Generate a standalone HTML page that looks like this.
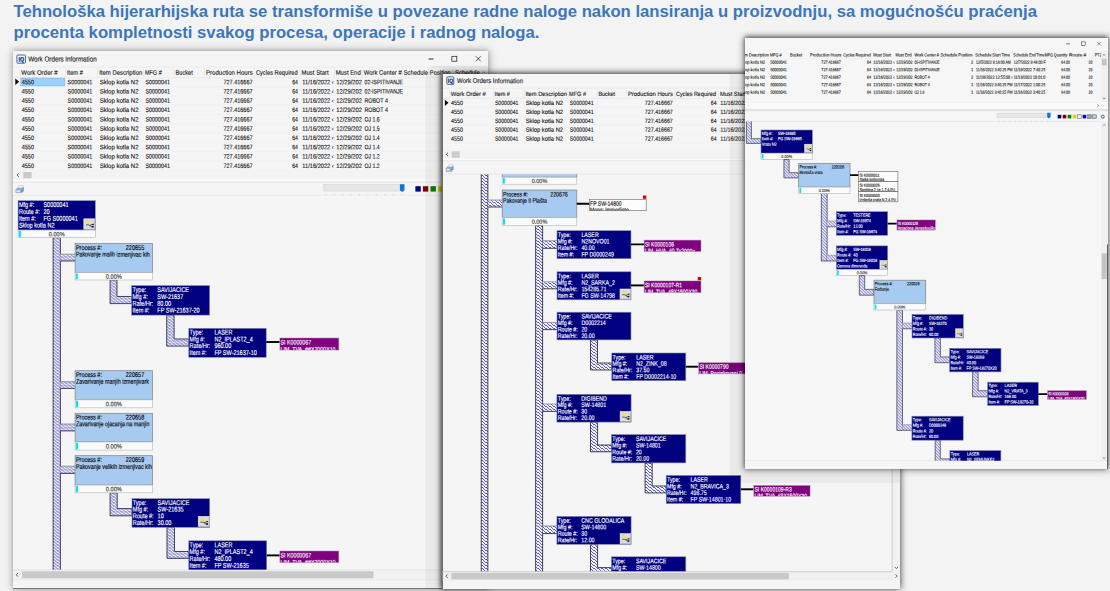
<!DOCTYPE html>
<html lang="sr"><head><meta charset="utf-8"><title>Work Orders Information</title>
<style>
html,body{margin:0;padding:0}
body{width:1110px;height:591px;overflow:hidden;position:relative;background:#f3f3f3;font-family:"Liberation Sans",sans-serif}
h1{position:absolute;left:13.5px;top:2.2px;margin:0;font:bold 16.7px/20.6px "Liberation Sans",sans-serif;color:#3d76bb;white-space:nowrap;letter-spacing:0}
.win{position:absolute;overflow:hidden;background:#f5f5f5}
.win svg{display:block;position:absolute;left:0;top:0}
svg text{font-family:"Liberation Sans",sans-serif;white-space:pre;text-rendering:geometricPrecision}
</style></head><body>
<svg width="0" height="0" style="position:absolute"><defs>
<pattern id="h" width="4" height="3" patternUnits="userSpaceOnUse" shape-rendering="crispEdges"><rect width="4" height="3" fill="#f7f7f9"/><rect x="0" y="0" width="1" height="1" fill="#5252c8"/><rect x="1" y="1" width="2" height="1" fill="#5252c8"/><rect x="3" y="2" width="1" height="1" fill="#5252c8"/></pattern>
<pattern id="h3" width="3" height="3" patternUnits="userSpaceOnUse" shape-rendering="crispEdges"><rect width="3" height="3" fill="#f6f6fa"/><rect x="0" y="0" width="1" height="1" fill="#5a5acc"/><rect x="1" y="1" width="1" height="1" fill="#5a5acc"/><rect x="2" y="2" width="1" height="1" fill="#5a5acc"/></pattern>
</defs></svg>
<h1>Tehnološka hijerarhijska ruta se transformiše u povezane radne naloge nakon lansiranja u proizvodnju, sa mogućnošću praćenja<br>procenta kompletnosti svakog procesa, operacije i radnog naloga.</h1>
<div class="win" style="left:13.3px;top:50.6px;width:474.7px;height:538.4px;box-shadow:0 0 8px 0.5px rgba(0,0,0,.36), 0 -1px 3px 0 rgba(0,0,0,.10);z-index:1"><svg width="474.7" height="538.4" viewBox="13.3 50.6 474.7 538.4"><rect x="13.3" y="50.6" width="474.7" height="538.4" fill="#f5f5f5" /><rect x="17.2" y="54.6" width="8.6" height="8.2" fill="#f4f7fb" stroke="#2c5c9c" stroke-width="0.9" rx="0.9"/><text transform="translate(21.6,61.0) scale(0.84,1) rotate(0.03)" font-size="6.395999999999997" fill="#163a78" text-anchor="middle" font-weight="bold" stroke="#163a78" stroke-width="0.3">IQ</text><text transform="translate(28.5,61.0) scale(0.859,1) rotate(0.03)" font-size="7.3" fill="#222" stroke="#222" stroke-width="0.14">Work Orders Information</text><line x1="428.9" y1="58.6" x2="433.8" y2="58.6" stroke="#000" stroke-width="0.8250000000000001"/><rect x="452.2" y="55.9" width="4.9" height="4.9" fill="none" stroke="#222" stroke-width="0.75" /><line x1="476.2" y1="55.9" x2="481.1" y2="60.9" stroke="#222" stroke-width="0.75"/><line x1="476.2" y1="60.9" x2="481.1" y2="55.9" stroke="#222" stroke-width="0.75"/><line x1="13.3" y1="66.6" x2="488.0" y2="66.6" stroke="#e6e6e6" stroke-width="0.6"/><text transform="translate(21.6,74.3) scale(0.933,1) rotate(0.03)" font-size="6.5" fill="#222" stroke="#222" stroke-width="0.14">Work Order #</text><text transform="translate(67.3,74.3) scale(0.88,1) rotate(0.03)" font-size="6.5" fill="#222" stroke="#222" stroke-width="0.14">Item #</text><text transform="translate(99.5,74.3) scale(0.918,1) rotate(0.03)" font-size="6.5" fill="#222" stroke="#222" stroke-width="0.14">Item Description</text><text transform="translate(145.2,74.3) scale(0.846,1) rotate(0.03)" font-size="6.5" fill="#222" stroke="#222" stroke-width="0.14">MFG #</text><text transform="translate(175.8,74.3) scale(0.866,1) rotate(0.03)" font-size="6.5" fill="#222" stroke="#222" stroke-width="0.14">Bucket</text><text transform="translate(206.3,74.3) scale(0.93,1) rotate(0.03)" font-size="6.5" fill="#222" stroke="#222" stroke-width="0.14">Production Hours</text><text transform="translate(256.2,74.3) scale(0.877,1) rotate(0.03)" font-size="6.5" fill="#222" stroke="#222" stroke-width="0.14">Cycles Required</text><text transform="translate(301.9,74.3) scale(0.915,1) rotate(0.03)" font-size="6.5" fill="#222" stroke="#222" stroke-width="0.14">Must Start</text><text transform="translate(336.0,74.3) scale(0.911,1) rotate(0.03)" font-size="6.5" fill="#222" stroke="#222" stroke-width="0.14">Must End</text><text transform="translate(364.0,74.3) scale(0.909,1) rotate(0.03)" font-size="6.5" fill="#222" stroke="#222" stroke-width="0.14">Work Center #</text><text transform="translate(404.0,74.3) scale(0.901,1) rotate(0.03)" font-size="6.5" fill="#222" stroke="#222" stroke-width="0.14">Schedule Position</text><text transform="translate(455.4,74.3) scale(0.908,1) rotate(0.03)" font-size="6.5" fill="#222" stroke="#222" stroke-width="0.14">Schedule</text><line x1="20.5" y1="68.0" x2="20.5" y2="77.0" stroke="#e2e2e2" stroke-width="0.6"/><line x1="65.8" y1="68.0" x2="65.8" y2="77.0" stroke="#e2e2e2" stroke-width="0.6"/><line x1="98.0" y1="68.0" x2="98.0" y2="77.0" stroke="#e2e2e2" stroke-width="0.6"/><line x1="143.8" y1="68.0" x2="143.8" y2="77.0" stroke="#e2e2e2" stroke-width="0.6"/><line x1="174.0" y1="68.0" x2="174.0" y2="77.0" stroke="#e2e2e2" stroke-width="0.6"/><line x1="204.5" y1="68.0" x2="204.5" y2="77.0" stroke="#e2e2e2" stroke-width="0.6"/><line x1="254.6" y1="68.0" x2="254.6" y2="77.0" stroke="#e2e2e2" stroke-width="0.6"/><line x1="300.3" y1="68.0" x2="300.3" y2="77.0" stroke="#e2e2e2" stroke-width="0.6"/><line x1="334.6" y1="68.0" x2="334.6" y2="77.0" stroke="#e2e2e2" stroke-width="0.6"/><line x1="362.8" y1="68.0" x2="362.8" y2="77.0" stroke="#e2e2e2" stroke-width="0.6"/><line x1="402.8" y1="68.0" x2="402.8" y2="77.0" stroke="#e2e2e2" stroke-width="0.6"/><line x1="453.6" y1="68.0" x2="453.6" y2="77.0" stroke="#e2e2e2" stroke-width="0.6"/><line x1="13.3" y1="77.3" x2="488.0" y2="77.3" stroke="#e4e4e4" stroke-width="0.6"/><path d="M482.4,73.0 L484.0,71.4 L485.6,73.0" fill="none" stroke="#555" stroke-width="0.6"/><rect x="21.0" y="77.7" width="44.2" height="8.0" fill="#99d1ff" stroke="#3a80c8" stroke-width="0.5" stroke-dasharray="0.8 0.6"/><path d="M15.6,78.1 L19.4,81.4 L15.6,84.7 Z" fill="#000"/><text transform="translate(22.0,83.8) scale(0.851,1) rotate(0.03)" font-size="6.5" fill="#1c1c1c" stroke="#1c1c1c" stroke-width="0.14">4550</text><text transform="translate(67.8,83.8) scale(0.837,1) rotate(0.03)" font-size="6.5" fill="#1c1c1c" stroke="#1c1c1c" stroke-width="0.14">S0000041</text><text transform="translate(100.0,83.8) scale(0.926,1) rotate(0.03)" font-size="6.5" fill="#1c1c1c" stroke="#1c1c1c" stroke-width="0.14">Sklop kotla N2</text><text transform="translate(145.8,83.8) scale(0.827,1) rotate(0.03)" font-size="6.5" fill="#1c1c1c" stroke="#1c1c1c" stroke-width="0.14">S0000041</text><text transform="translate(252.8,83.8) scale(0.844,1) rotate(0.03)" font-size="6.5" fill="#1c1c1c" text-anchor="end" stroke="#1c1c1c" stroke-width="0.14">727.416667</text><text transform="translate(298.3,83.8) scale(0.802,1) rotate(0.03)" font-size="6.5" fill="#1c1c1c" text-anchor="end" stroke="#1c1c1c" stroke-width="0.14">64</text><text transform="translate(302.6,83.8) scale(0.872,1) rotate(0.03)" font-size="6.5" fill="#1c1c1c" stroke="#1c1c1c" stroke-width="0.14">11/16/2022 ‹</text><text transform="translate(336.6,83.8) scale(0.889,1) rotate(0.03)" font-size="6.5" fill="#1c1c1c" stroke="#1c1c1c" stroke-width="0.14">12/29/202</text><text transform="translate(364.8,83.8) scale(0.805,1) rotate(0.03)" font-size="6.5" fill="#1c1c1c" stroke="#1c1c1c" stroke-width="0.14">02-ISPITIVANJE</text><line x1="20.5" y1="86.2" x2="488.0" y2="86.2" stroke="#efefef" stroke-width="0.5"/><text transform="translate(22.0,93.1) scale(0.851,1) rotate(0.03)" font-size="6.5" fill="#1c1c1c" stroke="#1c1c1c" stroke-width="0.14">4550</text><text transform="translate(67.8,93.1) scale(0.837,1) rotate(0.03)" font-size="6.5" fill="#1c1c1c" stroke="#1c1c1c" stroke-width="0.14">S0000041</text><text transform="translate(100.0,93.1) scale(0.926,1) rotate(0.03)" font-size="6.5" fill="#1c1c1c" stroke="#1c1c1c" stroke-width="0.14">Sklop kotla N2</text><text transform="translate(145.8,93.1) scale(0.827,1) rotate(0.03)" font-size="6.5" fill="#1c1c1c" stroke="#1c1c1c" stroke-width="0.14">S0000041</text><text transform="translate(252.8,93.1) scale(0.844,1) rotate(0.03)" font-size="6.5" fill="#1c1c1c" text-anchor="end" stroke="#1c1c1c" stroke-width="0.14">727.416667</text><text transform="translate(298.3,93.1) scale(0.802,1) rotate(0.03)" font-size="6.5" fill="#1c1c1c" text-anchor="end" stroke="#1c1c1c" stroke-width="0.14">64</text><text transform="translate(302.6,93.1) scale(0.872,1) rotate(0.03)" font-size="6.5" fill="#1c1c1c" stroke="#1c1c1c" stroke-width="0.14">11/16/2022 ‹</text><text transform="translate(336.6,93.1) scale(0.889,1) rotate(0.03)" font-size="6.5" fill="#1c1c1c" stroke="#1c1c1c" stroke-width="0.14">12/29/202</text><text transform="translate(364.8,93.1) scale(0.805,1) rotate(0.03)" font-size="6.5" fill="#1c1c1c" stroke="#1c1c1c" stroke-width="0.14">02-ISPITIVANJE</text><line x1="20.5" y1="95.5" x2="488.0" y2="95.5" stroke="#efefef" stroke-width="0.5"/><text transform="translate(22.0,102.4) scale(0.851,1) rotate(0.03)" font-size="6.5" fill="#1c1c1c" stroke="#1c1c1c" stroke-width="0.14">4550</text><text transform="translate(67.8,102.4) scale(0.837,1) rotate(0.03)" font-size="6.5" fill="#1c1c1c" stroke="#1c1c1c" stroke-width="0.14">S0000041</text><text transform="translate(100.0,102.4) scale(0.926,1) rotate(0.03)" font-size="6.5" fill="#1c1c1c" stroke="#1c1c1c" stroke-width="0.14">Sklop kotla N2</text><text transform="translate(145.8,102.4) scale(0.827,1) rotate(0.03)" font-size="6.5" fill="#1c1c1c" stroke="#1c1c1c" stroke-width="0.14">S0000041</text><text transform="translate(252.8,102.4) scale(0.844,1) rotate(0.03)" font-size="6.5" fill="#1c1c1c" text-anchor="end" stroke="#1c1c1c" stroke-width="0.14">727.416667</text><text transform="translate(298.3,102.4) scale(0.802,1) rotate(0.03)" font-size="6.5" fill="#1c1c1c" text-anchor="end" stroke="#1c1c1c" stroke-width="0.14">64</text><text transform="translate(302.6,102.4) scale(0.872,1) rotate(0.03)" font-size="6.5" fill="#1c1c1c" stroke="#1c1c1c" stroke-width="0.14">11/16/2022 ‹</text><text transform="translate(336.6,102.4) scale(0.889,1) rotate(0.03)" font-size="6.5" fill="#1c1c1c" stroke="#1c1c1c" stroke-width="0.14">12/29/202</text><text transform="translate(364.8,102.4) scale(0.823,1) rotate(0.03)" font-size="6.5" fill="#1c1c1c" stroke="#1c1c1c" stroke-width="0.14">ROBOT 4</text><line x1="20.5" y1="104.8" x2="488.0" y2="104.8" stroke="#efefef" stroke-width="0.5"/><text transform="translate(22.0,111.7) scale(0.851,1) rotate(0.03)" font-size="6.5" fill="#1c1c1c" stroke="#1c1c1c" stroke-width="0.14">4550</text><text transform="translate(67.8,111.7) scale(0.837,1) rotate(0.03)" font-size="6.5" fill="#1c1c1c" stroke="#1c1c1c" stroke-width="0.14">S0000041</text><text transform="translate(100.0,111.7) scale(0.926,1) rotate(0.03)" font-size="6.5" fill="#1c1c1c" stroke="#1c1c1c" stroke-width="0.14">Sklop kotla N2</text><text transform="translate(145.8,111.7) scale(0.827,1) rotate(0.03)" font-size="6.5" fill="#1c1c1c" stroke="#1c1c1c" stroke-width="0.14">S0000041</text><text transform="translate(252.8,111.7) scale(0.844,1) rotate(0.03)" font-size="6.5" fill="#1c1c1c" text-anchor="end" stroke="#1c1c1c" stroke-width="0.14">727.416667</text><text transform="translate(298.3,111.7) scale(0.802,1) rotate(0.03)" font-size="6.5" fill="#1c1c1c" text-anchor="end" stroke="#1c1c1c" stroke-width="0.14">64</text><text transform="translate(302.6,111.7) scale(0.872,1) rotate(0.03)" font-size="6.5" fill="#1c1c1c" stroke="#1c1c1c" stroke-width="0.14">11/16/2022 ‹</text><text transform="translate(336.6,111.7) scale(0.889,1) rotate(0.03)" font-size="6.5" fill="#1c1c1c" stroke="#1c1c1c" stroke-width="0.14">12/29/202</text><text transform="translate(364.8,111.7) scale(0.823,1) rotate(0.03)" font-size="6.5" fill="#1c1c1c" stroke="#1c1c1c" stroke-width="0.14">ROBOT 4</text><line x1="20.5" y1="114.1" x2="488.0" y2="114.1" stroke="#efefef" stroke-width="0.5"/><text transform="translate(22.0,121.0) scale(0.851,1) rotate(0.03)" font-size="6.5" fill="#1c1c1c" stroke="#1c1c1c" stroke-width="0.14">4550</text><text transform="translate(67.8,121.0) scale(0.837,1) rotate(0.03)" font-size="6.5" fill="#1c1c1c" stroke="#1c1c1c" stroke-width="0.14">S0000041</text><text transform="translate(100.0,121.0) scale(0.926,1) rotate(0.03)" font-size="6.5" fill="#1c1c1c" stroke="#1c1c1c" stroke-width="0.14">Sklop kotla N2</text><text transform="translate(145.8,121.0) scale(0.827,1) rotate(0.03)" font-size="6.5" fill="#1c1c1c" stroke="#1c1c1c" stroke-width="0.14">S0000041</text><text transform="translate(252.8,121.0) scale(0.844,1) rotate(0.03)" font-size="6.5" fill="#1c1c1c" text-anchor="end" stroke="#1c1c1c" stroke-width="0.14">727.416667</text><text transform="translate(298.3,121.0) scale(0.802,1) rotate(0.03)" font-size="6.5" fill="#1c1c1c" text-anchor="end" stroke="#1c1c1c" stroke-width="0.14">64</text><text transform="translate(302.6,121.0) scale(0.872,1) rotate(0.03)" font-size="6.5" fill="#1c1c1c" stroke="#1c1c1c" stroke-width="0.14">11/16/2022 ‹</text><text transform="translate(336.6,121.0) scale(0.889,1) rotate(0.03)" font-size="6.5" fill="#1c1c1c" stroke="#1c1c1c" stroke-width="0.14">12/29/202</text><text transform="translate(364.8,121.0) scale(0.794,1) rotate(0.03)" font-size="6.5" fill="#1c1c1c" stroke="#1c1c1c" stroke-width="0.14">OJ 1.6</text><line x1="20.5" y1="123.4" x2="488.0" y2="123.4" stroke="#efefef" stroke-width="0.5"/><text transform="translate(22.0,130.3) scale(0.851,1) rotate(0.03)" font-size="6.5" fill="#1c1c1c" stroke="#1c1c1c" stroke-width="0.14">4550</text><text transform="translate(67.8,130.3) scale(0.837,1) rotate(0.03)" font-size="6.5" fill="#1c1c1c" stroke="#1c1c1c" stroke-width="0.14">S0000041</text><text transform="translate(100.0,130.3) scale(0.926,1) rotate(0.03)" font-size="6.5" fill="#1c1c1c" stroke="#1c1c1c" stroke-width="0.14">Sklop kotla N2</text><text transform="translate(145.8,130.3) scale(0.827,1) rotate(0.03)" font-size="6.5" fill="#1c1c1c" stroke="#1c1c1c" stroke-width="0.14">S0000041</text><text transform="translate(252.8,130.3) scale(0.844,1) rotate(0.03)" font-size="6.5" fill="#1c1c1c" text-anchor="end" stroke="#1c1c1c" stroke-width="0.14">727.416667</text><text transform="translate(298.3,130.3) scale(0.802,1) rotate(0.03)" font-size="6.5" fill="#1c1c1c" text-anchor="end" stroke="#1c1c1c" stroke-width="0.14">64</text><text transform="translate(302.6,130.3) scale(0.872,1) rotate(0.03)" font-size="6.5" fill="#1c1c1c" stroke="#1c1c1c" stroke-width="0.14">11/16/2022 ‹</text><text transform="translate(336.6,130.3) scale(0.889,1) rotate(0.03)" font-size="6.5" fill="#1c1c1c" stroke="#1c1c1c" stroke-width="0.14">12/29/202</text><text transform="translate(364.8,130.3) scale(0.794,1) rotate(0.03)" font-size="6.5" fill="#1c1c1c" stroke="#1c1c1c" stroke-width="0.14">OJ 1.5</text><line x1="20.5" y1="132.7" x2="488.0" y2="132.7" stroke="#efefef" stroke-width="0.5"/><text transform="translate(22.0,139.6) scale(0.851,1) rotate(0.03)" font-size="6.5" fill="#1c1c1c" stroke="#1c1c1c" stroke-width="0.14">4550</text><text transform="translate(67.8,139.6) scale(0.837,1) rotate(0.03)" font-size="6.5" fill="#1c1c1c" stroke="#1c1c1c" stroke-width="0.14">S0000041</text><text transform="translate(100.0,139.6) scale(0.926,1) rotate(0.03)" font-size="6.5" fill="#1c1c1c" stroke="#1c1c1c" stroke-width="0.14">Sklop kotla N2</text><text transform="translate(145.8,139.6) scale(0.827,1) rotate(0.03)" font-size="6.5" fill="#1c1c1c" stroke="#1c1c1c" stroke-width="0.14">S0000041</text><text transform="translate(252.8,139.6) scale(0.844,1) rotate(0.03)" font-size="6.5" fill="#1c1c1c" text-anchor="end" stroke="#1c1c1c" stroke-width="0.14">727.416667</text><text transform="translate(298.3,139.6) scale(0.802,1) rotate(0.03)" font-size="6.5" fill="#1c1c1c" text-anchor="end" stroke="#1c1c1c" stroke-width="0.14">64</text><text transform="translate(302.6,139.6) scale(0.872,1) rotate(0.03)" font-size="6.5" fill="#1c1c1c" stroke="#1c1c1c" stroke-width="0.14">11/16/2022 ‹</text><text transform="translate(336.6,139.6) scale(0.889,1) rotate(0.03)" font-size="6.5" fill="#1c1c1c" stroke="#1c1c1c" stroke-width="0.14">12/29/202</text><text transform="translate(364.8,139.6) scale(0.794,1) rotate(0.03)" font-size="6.5" fill="#1c1c1c" stroke="#1c1c1c" stroke-width="0.14">OJ 1.4</text><line x1="20.5" y1="141.9" x2="488.0" y2="141.9" stroke="#efefef" stroke-width="0.5"/><text transform="translate(22.0,148.9) scale(0.851,1) rotate(0.03)" font-size="6.5" fill="#1c1c1c" stroke="#1c1c1c" stroke-width="0.14">4550</text><text transform="translate(67.8,148.9) scale(0.837,1) rotate(0.03)" font-size="6.5" fill="#1c1c1c" stroke="#1c1c1c" stroke-width="0.14">S0000041</text><text transform="translate(100.0,148.9) scale(0.926,1) rotate(0.03)" font-size="6.5" fill="#1c1c1c" stroke="#1c1c1c" stroke-width="0.14">Sklop kotla N2</text><text transform="translate(145.8,148.9) scale(0.827,1) rotate(0.03)" font-size="6.5" fill="#1c1c1c" stroke="#1c1c1c" stroke-width="0.14">S0000041</text><text transform="translate(252.8,148.9) scale(0.844,1) rotate(0.03)" font-size="6.5" fill="#1c1c1c" text-anchor="end" stroke="#1c1c1c" stroke-width="0.14">727.416667</text><text transform="translate(298.3,148.9) scale(0.802,1) rotate(0.03)" font-size="6.5" fill="#1c1c1c" text-anchor="end" stroke="#1c1c1c" stroke-width="0.14">64</text><text transform="translate(302.6,148.9) scale(0.872,1) rotate(0.03)" font-size="6.5" fill="#1c1c1c" stroke="#1c1c1c" stroke-width="0.14">11/16/2022 ‹</text><text transform="translate(336.6,148.9) scale(0.889,1) rotate(0.03)" font-size="6.5" fill="#1c1c1c" stroke="#1c1c1c" stroke-width="0.14">12/29/202</text><text transform="translate(364.8,148.9) scale(0.794,1) rotate(0.03)" font-size="6.5" fill="#1c1c1c" stroke="#1c1c1c" stroke-width="0.14">OJ 1.4</text><line x1="20.5" y1="151.2" x2="488.0" y2="151.2" stroke="#efefef" stroke-width="0.5"/><text transform="translate(22.0,158.2) scale(0.851,1) rotate(0.03)" font-size="6.5" fill="#1c1c1c" stroke="#1c1c1c" stroke-width="0.14">4550</text><text transform="translate(67.8,158.2) scale(0.837,1) rotate(0.03)" font-size="6.5" fill="#1c1c1c" stroke="#1c1c1c" stroke-width="0.14">S0000041</text><text transform="translate(100.0,158.2) scale(0.926,1) rotate(0.03)" font-size="6.5" fill="#1c1c1c" stroke="#1c1c1c" stroke-width="0.14">Sklop kotla N2</text><text transform="translate(145.8,158.2) scale(0.827,1) rotate(0.03)" font-size="6.5" fill="#1c1c1c" stroke="#1c1c1c" stroke-width="0.14">S0000041</text><text transform="translate(252.8,158.2) scale(0.844,1) rotate(0.03)" font-size="6.5" fill="#1c1c1c" text-anchor="end" stroke="#1c1c1c" stroke-width="0.14">727.416667</text><text transform="translate(298.3,158.2) scale(0.802,1) rotate(0.03)" font-size="6.5" fill="#1c1c1c" text-anchor="end" stroke="#1c1c1c" stroke-width="0.14">64</text><text transform="translate(302.6,158.2) scale(0.872,1) rotate(0.03)" font-size="6.5" fill="#1c1c1c" stroke="#1c1c1c" stroke-width="0.14">11/16/2022 ‹</text><text transform="translate(336.6,158.2) scale(0.889,1) rotate(0.03)" font-size="6.5" fill="#1c1c1c" stroke="#1c1c1c" stroke-width="0.14">12/29/202</text><text transform="translate(364.8,158.2) scale(0.794,1) rotate(0.03)" font-size="6.5" fill="#1c1c1c" stroke="#1c1c1c" stroke-width="0.14">OJ 1.2</text><line x1="20.5" y1="160.6" x2="488.0" y2="160.6" stroke="#efefef" stroke-width="0.5"/><text transform="translate(22.0,167.5) scale(0.851,1) rotate(0.03)" font-size="6.5" fill="#1c1c1c" stroke="#1c1c1c" stroke-width="0.14">4550</text><text transform="translate(67.8,167.5) scale(0.837,1) rotate(0.03)" font-size="6.5" fill="#1c1c1c" stroke="#1c1c1c" stroke-width="0.14">S0000041</text><text transform="translate(100.0,167.5) scale(0.926,1) rotate(0.03)" font-size="6.5" fill="#1c1c1c" stroke="#1c1c1c" stroke-width="0.14">Sklop kotla N2</text><text transform="translate(145.8,167.5) scale(0.827,1) rotate(0.03)" font-size="6.5" fill="#1c1c1c" stroke="#1c1c1c" stroke-width="0.14">S0000041</text><text transform="translate(252.8,167.5) scale(0.844,1) rotate(0.03)" font-size="6.5" fill="#1c1c1c" text-anchor="end" stroke="#1c1c1c" stroke-width="0.14">727.416667</text><text transform="translate(298.3,167.5) scale(0.802,1) rotate(0.03)" font-size="6.5" fill="#1c1c1c" text-anchor="end" stroke="#1c1c1c" stroke-width="0.14">64</text><text transform="translate(302.6,167.5) scale(0.872,1) rotate(0.03)" font-size="6.5" fill="#1c1c1c" stroke="#1c1c1c" stroke-width="0.14">11/16/2022 ‹</text><text transform="translate(336.6,167.5) scale(0.889,1) rotate(0.03)" font-size="6.5" fill="#1c1c1c" stroke="#1c1c1c" stroke-width="0.14">12/29/202</text><text transform="translate(364.8,167.5) scale(0.794,1) rotate(0.03)" font-size="6.5" fill="#1c1c1c" stroke="#1c1c1c" stroke-width="0.14">OJ 1.2</text><line x1="20.5" y1="169.8" x2="488.0" y2="169.8" stroke="#efefef" stroke-width="0.5"/><rect x="13.3" y="170.2" width="474.7" height="8.4" fill="#f3f3f3" /><path d="M19.1,172.8 L17.3,174.6 L19.1,176.4" fill="none" stroke="#444" stroke-width="0.8"/><rect x="23.6" y="171.6" width="8.4" height="6.2" fill="#c9c9c9" /><rect x="13.3" y="178.8" width="474.7" height="2.8" fill="#fbfbfb" /><line x1="13.3" y1="181.6" x2="488.0" y2="181.6" stroke="#dcdcdc" stroke-width="0.7"/><g transform="translate(15.9,185.0) scale(1.0)"><path d="M0.2,4.2 L2.6,1.6 L8.1,1.6 L8.1,5.4 L6.2,7.7 L0.2,7.7 Z" fill="#93a4d0"/><path d="M2.2,2.6 L3.6,0.2 L7.6,0.2 L6.6,2.6 Z" fill="#f4f6fc" stroke="#9aa8cc" stroke-width="0.35"/><path d="M0.2,4.2 L6.2,4.2 L8.1,1.9 L8.1,5.4 L6.2,7.7 L0.2,7.7 Z" fill="#8496c8"/><path d="M0.2,4.2 L6.2,4.2 L6.2,7.7 L0.2,7.7 Z" fill="#a9b6dc"/><rect x="1" y="5.2" width="3.8" height="1.1" fill="#fbfbff"/><rect x="5" y="5.0" width="1.6" height="1.5" fill="#18d018"/></g><rect x="324.1" y="184.2" width="79.9" height="6.4" fill="#e7e7e7" stroke="#d2d2d2" stroke-width="0.6" /><path d="M400.2,183.8 L404.8,183.8 L404.8,189.9 L402.5,191.5 L400.2,189.9 Z" fill="#0a78d8"/><line x1="326.1" y1="193.6" x2="326.1" y2="195.2" stroke="#c4c4c4" stroke-width="0.6"/><line x1="334.5" y1="193.6" x2="334.5" y2="195.2" stroke="#c4c4c4" stroke-width="0.6"/><line x1="343.0" y1="193.6" x2="343.0" y2="195.2" stroke="#c4c4c4" stroke-width="0.6"/><line x1="351.4" y1="193.6" x2="351.4" y2="195.2" stroke="#c4c4c4" stroke-width="0.6"/><line x1="359.8" y1="193.6" x2="359.8" y2="195.2" stroke="#c4c4c4" stroke-width="0.6"/><line x1="368.3" y1="193.6" x2="368.3" y2="195.2" stroke="#c4c4c4" stroke-width="0.6"/><line x1="376.7" y1="193.6" x2="376.7" y2="195.2" stroke="#c4c4c4" stroke-width="0.6"/><line x1="385.1" y1="193.6" x2="385.1" y2="195.2" stroke="#c4c4c4" stroke-width="0.6"/><line x1="393.6" y1="193.6" x2="393.6" y2="195.2" stroke="#c4c4c4" stroke-width="0.6"/><line x1="402.0" y1="193.6" x2="402.0" y2="195.2" stroke="#c4c4c4" stroke-width="0.6"/><rect x="415.7" y="185.8" width="5.4" height="5.4" fill="#000080" /><rect x="423.2" y="185.8" width="5.4" height="5.4" fill="#800000" /><rect x="430.8" y="185.8" width="5.4" height="5.4" fill="#008000" /><rect x="438.3" y="185.8" width="5.4" height="5.4" fill="#e0d000" /><rect x="445.9" y="185.8" width="5.4" height="5.4" fill="#f0f0f0" stroke="#555" stroke-width="0.5" /><rect x="453.4" y="185.8" width="5.4" height="5.4" fill="#0000e0" /><rect x="461.0" y="185.8" width="5.4" height="5.4" fill="#a0a0a0" stroke="#555" stroke-width="0.5" /><rect x="468.6" y="185.8" width="5.4" height="5.4" fill="#a6caf0" stroke="#555" stroke-width="0.5" /><line x1="13.3" y1="194.8" x2="488.0" y2="194.8" stroke="#e2e2e2" stroke-width="0.7"/><rect x="53.4" y="237.3" width="7.2" height="333.0" fill="url(#h)" stroke="#1a1a2a" stroke-width="0.8" /><rect x="60.6" y="253.8" width="14.8" height="6.8" fill="url(#h)" /><line x1="60.6" y1="253.8" x2="75.4" y2="253.8" stroke="#8a8a92" stroke-width="0.8"/><line x1="60.6" y1="260.6" x2="75.4" y2="260.6" stroke="#1a1a2a" stroke-width="0.8"/><rect x="60.6" y="381.2" width="14.8" height="6.8" fill="url(#h)" /><line x1="60.6" y1="381.2" x2="75.4" y2="381.2" stroke="#8a8a92" stroke-width="0.8"/><line x1="60.6" y1="388.0" x2="75.4" y2="388.0" stroke="#1a1a2a" stroke-width="0.8"/><rect x="60.6" y="423.6" width="14.8" height="6.9" fill="url(#h)" /><line x1="60.6" y1="423.6" x2="75.4" y2="423.6" stroke="#8a8a92" stroke-width="0.8"/><line x1="60.6" y1="430.5" x2="75.4" y2="430.5" stroke="#1a1a2a" stroke-width="0.8"/><rect x="60.6" y="465.8" width="14.8" height="7.2" fill="url(#h)" /><line x1="60.6" y1="465.8" x2="75.4" y2="465.8" stroke="#8a8a92" stroke-width="0.8"/><line x1="60.6" y1="473.0" x2="75.4" y2="473.0" stroke="#1a1a2a" stroke-width="0.8"/><rect x="18.4" y="200.3" width="77.2" height="29.4" fill="#000080" stroke="#8a8aa8" stroke-width="0.6" /><text transform="translate(19.2,206.7) scale(0.8,1) rotate(0.03)" font-size="6.9" fill="#fff" stroke="#fff" stroke-width="0.14">Mfg #:</text><text transform="translate(43.7,206.7) scale(0.8,1) rotate(0.03)" font-size="6.9" fill="#fff" stroke="#fff" stroke-width="0.14">S0000041</text><text transform="translate(19.2,213.5) scale(0.8,1) rotate(0.03)" font-size="6.9" fill="#fff" stroke="#fff" stroke-width="0.14">Route #:</text><text transform="translate(43.7,213.5) scale(0.8,1) rotate(0.03)" font-size="6.9" fill="#fff" stroke="#fff" stroke-width="0.14">20</text><text transform="translate(19.2,220.4) scale(0.8,1) rotate(0.03)" font-size="6.9" fill="#fff" stroke="#fff" stroke-width="0.14">Item #:</text><text transform="translate(43.7,220.4) scale(0.8,1) rotate(0.03)" font-size="6.9" fill="#fff" stroke="#fff" stroke-width="0.14">FG S0000041</text><text transform="translate(19.2,227.2) scale(0.8,1) rotate(0.03)" font-size="6.9" fill="#fff" stroke="#fff" stroke-width="0.14">Sklop kotla N2</text><rect x="84.1" y="218.4" width="11.1" height="10.7" fill="#dcdcdc" stroke="#f6f6f6" stroke-width="0.5" /><path d="M84.3,229.1 L95.2,229.1 L95.2,218.6" fill="none" stroke="#8c8c8c" stroke-width="0.5"/><rect x="86.8" y="219.7" width="2.0" height="1.1" fill="#e6d24a" /><rect x="86.8" y="220.5" width="3.6" height="2.8" fill="#f2e05a" /><path d="M86.36,224.43 L89.02,224.43 L91.91,226.36 M89.91,225.07 L92.36,224.00" fill="none" stroke="#111" stroke-width="0.61"/><rect x="92.4" y="223.4" width="1.7" height="1.2" fill="#111" /><rect x="91.8" y="225.5" width="2.2" height="1.6" fill="#111" /><rect x="18.4" y="229.7" width="77.2" height="7.6" fill="#fbfbfb" stroke="#b4b4b4" stroke-width="0.6" /><rect x="19.1" y="230.5" width="2.1" height="6.1" fill="#00e8f0" /><text transform="translate(57.0,235.8) scale(0.9,1) rotate(0.03)" font-size="6.2" fill="#333" text-anchor="middle" stroke="#333" stroke-width="0.14">0.00%</text><path d="M110.4,279.6 L117.3,279.6 L117.3,296.1 L132.0,296.1 L132.0,303.2 L110.4,303.2 Z" fill="url(#h)" stroke="#1a1a2a" stroke-width="0.8"/><rect x="75.4" y="243.1" width="77.4" height="29.2" fill="#a6caf0" stroke="#808080" stroke-width="0.7" /><svg x="75.4" y="243.1" width="77.0" height="29.2" viewBox="75.4 243.1 77.0 29.2"><text transform="translate(76.2,249.5) scale(0.8,1) rotate(0.03)" font-size="6.9" fill="#000" stroke="#000" stroke-width="0.14">Process #:</text><text transform="translate(126.1,249.5) scale(0.8,1) rotate(0.03)" font-size="6.9" fill="#000" stroke="#000" stroke-width="0.14">220655</text><text transform="translate(76.2,256.2) scale(0.775,1) rotate(0.03)" font-size="6.9" fill="#000" stroke="#000" stroke-width="0.14">Pakovanje malih izmenjivac kih</text></svg><rect x="75.4" y="272.3" width="77.4" height="7.3" fill="#fbfbfb" stroke="#b4b4b4" stroke-width="0.6" /><rect x="76.1" y="273.1" width="2.0" height="5.8" fill="#00e8f0" /><text transform="translate(114.1,278.3) scale(0.9,1) rotate(0.03)" font-size="6.348000000000001" fill="#333" text-anchor="middle" stroke="#333" stroke-width="0.14">0.00%</text><path d="M167.0,314.7 L174.4,314.7 L174.4,338.6 L189.1,338.6 L189.1,345.7 L167.0,345.7 Z" fill="url(#h)" stroke="#1a1a2a" stroke-width="0.8"/><rect x="132.0" y="285.2" width="77.9" height="29.5" fill="#000080" stroke="#8a8aa8" stroke-width="0.6" /><text transform="translate(132.8,291.6) scale(0.8,1) rotate(0.03)" font-size="6.9" fill="#fff" stroke="#fff" stroke-width="0.14">Type:</text><text transform="translate(157.6,291.6) scale(0.8,1) rotate(0.03)" font-size="6.9" fill="#fff" stroke="#fff" stroke-width="0.14">SAVIJACICE</text><text transform="translate(132.8,298.5) scale(0.8,1) rotate(0.03)" font-size="6.9" fill="#fff" stroke="#fff" stroke-width="0.14">Mfg #:</text><text transform="translate(157.6,298.5) scale(0.8,1) rotate(0.03)" font-size="6.9" fill="#fff" stroke="#fff" stroke-width="0.14">SW-21637</text><text transform="translate(132.8,305.3) scale(0.8,1) rotate(0.03)" font-size="6.9" fill="#fff" stroke="#fff" stroke-width="0.14">Rate/Hr:</text><text transform="translate(157.6,305.3) scale(0.8,1) rotate(0.03)" font-size="6.9" fill="#fff" stroke="#fff" stroke-width="0.14">80.00</text><text transform="translate(132.8,312.2) scale(0.8,1) rotate(0.03)" font-size="6.9" fill="#fff" stroke="#fff" stroke-width="0.14">Item #:</text><text transform="translate(157.6,312.2) scale(0.8,1) rotate(0.03)" font-size="6.9" fill="#fff" stroke="#fff" stroke-width="0.14">FP SW-21637-20</text><rect x="189.1" y="327.9" width="77.4" height="29.0" fill="#000080" stroke="#8a8aa8" stroke-width="0.6" /><text transform="translate(189.9,334.2) scale(0.8,1) rotate(0.03)" font-size="6.9" fill="#fff" stroke="#fff" stroke-width="0.14">Type:</text><text transform="translate(214.7,334.2) scale(0.8,1) rotate(0.03)" font-size="6.9" fill="#fff" stroke="#fff" stroke-width="0.14">LASER</text><text transform="translate(189.9,341.0) scale(0.8,1) rotate(0.03)" font-size="6.9" fill="#fff" stroke="#fff" stroke-width="0.14">Mfg #:</text><text transform="translate(214.7,341.0) scale(0.8,1) rotate(0.03)" font-size="6.9" fill="#fff" stroke="#fff" stroke-width="0.14">N2_IPLAST2_4</text><text transform="translate(189.9,347.7) scale(0.8,1) rotate(0.03)" font-size="6.9" fill="#fff" stroke="#fff" stroke-width="0.14">Rate/Hr:</text><text transform="translate(214.7,347.7) scale(0.8,1) rotate(0.03)" font-size="6.9" fill="#fff" stroke="#fff" stroke-width="0.14">960.00</text><text transform="translate(189.9,354.5) scale(0.8,1) rotate(0.03)" font-size="6.9" fill="#fff" stroke="#fff" stroke-width="0.14">Item #:</text><text transform="translate(214.7,354.5) scale(0.8,1) rotate(0.03)" font-size="6.9" fill="#fff" stroke="#fff" stroke-width="0.14">FP SW-21637-10</text><line x1="266.5" y1="341.6" x2="280.1" y2="341.6" stroke="#000" stroke-width="1.9"/><svg x="280.1" y="337.6" width="59.1" height="12.1" viewBox="280.1 337.6 59.1 12.1"><rect x="280.1" y="337.6" width="59.1" height="12.1" fill="#800080" /><text transform="translate(280.9,344.2) scale(0.8,1) rotate(0.03)" font-size="6.6" fill="#fff" stroke="#fff" stroke-width="0.14">SI K0000067</text><text transform="translate(280.9,351.2) scale(0.8,1) rotate(0.03)" font-size="6.6" fill="#fff" stroke="#fff" stroke-width="0.14">LIM. TVA. ##X2000X10</text></svg><rect x="280.1" y="337.6" width="59.1" height="12.1" fill="none" stroke="#b090b0" stroke-width="0.5" /><rect x="75.4" y="370.3" width="77.4" height="29.2" fill="#a6caf0" stroke="#808080" stroke-width="0.7" /><svg x="75.4" y="370.3" width="77.0" height="29.2" viewBox="75.4 370.3 77.0 29.2"><text transform="translate(76.2,376.7) scale(0.8,1) rotate(0.03)" font-size="6.9" fill="#000" stroke="#000" stroke-width="0.14">Process #:</text><text transform="translate(126.1,376.7) scale(0.8,1) rotate(0.03)" font-size="6.9" fill="#000" stroke="#000" stroke-width="0.14">220657</text><text transform="translate(76.2,383.4) scale(0.775,1) rotate(0.03)" font-size="6.9" fill="#000" stroke="#000" stroke-width="0.14">Zavarivanje manjih izmenjivark</text></svg><rect x="75.4" y="399.5" width="77.4" height="7.9" fill="#fbfbfb" stroke="#b4b4b4" stroke-width="0.6" /><rect x="76.1" y="400.3" width="2.2" height="6.4" fill="#00e8f0" /><text transform="translate(114.1,405.8) scale(0.9,1) rotate(0.03)" font-size="6.348000000000001" fill="#333" text-anchor="middle" stroke="#333" stroke-width="0.14">0.00%</text><rect x="75.4" y="412.9" width="77.4" height="28.7" fill="#a6caf0" stroke="#808080" stroke-width="0.7" /><svg x="75.4" y="412.9" width="77.0" height="28.7" viewBox="75.4 412.9 77.0 28.7"><text transform="translate(76.2,419.2) scale(0.8,1) rotate(0.03)" font-size="6.9" fill="#000" stroke="#000" stroke-width="0.14">Process #:</text><text transform="translate(126.1,419.2) scale(0.8,1) rotate(0.03)" font-size="6.9" fill="#000" stroke="#000" stroke-width="0.14">220658</text><text transform="translate(76.2,425.9) scale(0.775,1) rotate(0.03)" font-size="6.9" fill="#000" stroke="#000" stroke-width="0.14">Zavarivanje ojacanja na manjin</text></svg><rect x="75.4" y="441.6" width="77.4" height="8.1" fill="#fbfbfb" stroke="#b4b4b4" stroke-width="0.6" /><rect x="76.1" y="442.4" width="2.3" height="6.6" fill="#00e8f0" /><text transform="translate(114.1,448.0) scale(0.9,1) rotate(0.03)" font-size="6.348000000000001" fill="#333" text-anchor="middle" stroke="#333" stroke-width="0.14">0.00%</text><path d="M110.4,492.4 L117.5,492.4 L117.5,508.2 L132.3,508.2 L132.3,515.4 L110.4,515.4 Z" fill="url(#h)" stroke="#1a1a2a" stroke-width="0.8"/><rect x="75.4" y="455.3" width="77.4" height="29.4" fill="#a6caf0" stroke="#808080" stroke-width="0.7" /><svg x="75.4" y="455.3" width="77.0" height="29.4" viewBox="75.4 455.3 77.0 29.4"><text transform="translate(76.2,461.7) scale(0.8,1) rotate(0.03)" font-size="6.9" fill="#000" stroke="#000" stroke-width="0.14">Process #:</text><text transform="translate(126.1,461.7) scale(0.8,1) rotate(0.03)" font-size="6.9" fill="#000" stroke="#000" stroke-width="0.14">220659</text><text transform="translate(76.2,468.5) scale(0.775,1) rotate(0.03)" font-size="6.9" fill="#000" stroke="#000" stroke-width="0.14">Pakovanje velikih izmenjivac kih</text></svg><rect x="75.4" y="484.7" width="77.4" height="7.7" fill="#fbfbfb" stroke="#b4b4b4" stroke-width="0.6" /><rect x="76.1" y="485.5" width="2.2" height="6.2" fill="#00e8f0" /><text transform="translate(114.1,490.9) scale(0.9,1) rotate(0.03)" font-size="6.348000000000001" fill="#333" text-anchor="middle" stroke="#333" stroke-width="0.14">0.00%</text><path d="M167.3,526.9 L174.8,526.9 L174.8,551.1 L189.1,551.1 L189.1,558.0 L167.3,558.0 Z" fill="url(#h)" stroke="#1a1a2a" stroke-width="0.8"/><rect x="132.3" y="498.3" width="77.7" height="28.6" fill="#000080" stroke="#8a8aa8" stroke-width="0.6" /><text transform="translate(133.1,504.6) scale(0.8,1) rotate(0.03)" font-size="6.9" fill="#fff" stroke="#fff" stroke-width="0.14">Type:</text><text transform="translate(157.9,504.6) scale(0.8,1) rotate(0.03)" font-size="6.9" fill="#fff" stroke="#fff" stroke-width="0.14">SAVIJACICE</text><text transform="translate(133.1,511.2) scale(0.8,1) rotate(0.03)" font-size="6.9" fill="#fff" stroke="#fff" stroke-width="0.14">Mfg #:</text><text transform="translate(157.9,511.2) scale(0.8,1) rotate(0.03)" font-size="6.9" fill="#fff" stroke="#fff" stroke-width="0.14">SW-21635</text><text transform="translate(133.1,517.9) scale(0.8,1) rotate(0.03)" font-size="6.9" fill="#fff" stroke="#fff" stroke-width="0.14">Route #:</text><text transform="translate(157.9,517.9) scale(0.8,1) rotate(0.03)" font-size="6.9" fill="#fff" stroke="#fff" stroke-width="0.14">10</text><text transform="translate(133.1,524.5) scale(0.8,1) rotate(0.03)" font-size="6.9" fill="#fff" stroke="#fff" stroke-width="0.14">Rate/Hr:</text><text transform="translate(157.9,524.5) scale(0.8,1) rotate(0.03)" font-size="6.9" fill="#fff" stroke="#fff" stroke-width="0.14">30.00</text><rect x="198.5" y="515.9" width="11.2" height="10.4" fill="#dcdcdc" stroke="#f6f6f6" stroke-width="0.5" /><path d="M198.7,526.4 L209.7,526.4 L209.7,516.1" fill="none" stroke="#8c8c8c" stroke-width="0.5"/><rect x="201.1" y="517.2" width="2.0" height="1.0" fill="#e6d24a" /><rect x="201.1" y="517.9" width="3.6" height="2.7" fill="#f2e05a" /><path d="M200.70,521.76 L203.38,521.76 L206.29,523.64 M204.28,522.38 L206.74,521.34" fill="none" stroke="#111" stroke-width="0.62"/><rect x="206.7" y="520.7" width="1.7" height="1.1" fill="#111" /><rect x="206.2" y="522.8" width="2.2" height="1.6" fill="#111" /><rect x="189.1" y="540.4" width="77.9" height="29.4" fill="#000080" stroke="#8a8aa8" stroke-width="0.6" /><text transform="translate(189.9,546.8) scale(0.8,1) rotate(0.03)" font-size="6.9" fill="#fff" stroke="#fff" stroke-width="0.14">Type:</text><text transform="translate(214.7,546.8) scale(0.8,1) rotate(0.03)" font-size="6.9" fill="#fff" stroke="#fff" stroke-width="0.14">LASER</text><text transform="translate(189.9,553.6) scale(0.8,1) rotate(0.03)" font-size="6.9" fill="#fff" stroke="#fff" stroke-width="0.14">Mfg #:</text><text transform="translate(214.7,553.6) scale(0.8,1) rotate(0.03)" font-size="6.9" fill="#fff" stroke="#fff" stroke-width="0.14">N2_IPLAST2_4</text><text transform="translate(189.9,560.5) scale(0.8,1) rotate(0.03)" font-size="6.9" fill="#fff" stroke="#fff" stroke-width="0.14">Rate/Hr:</text><text transform="translate(214.7,560.5) scale(0.8,1) rotate(0.03)" font-size="6.9" fill="#fff" stroke="#fff" stroke-width="0.14">480.00</text><text transform="translate(189.9,567.3) scale(0.8,1) rotate(0.03)" font-size="6.9" fill="#fff" stroke="#fff" stroke-width="0.14">Item #:</text><text transform="translate(214.7,567.3) scale(0.8,1) rotate(0.03)" font-size="6.9" fill="#fff" stroke="#fff" stroke-width="0.14">FP SW-21635</text><line x1="267.0" y1="555.0" x2="280.1" y2="555.0" stroke="#000" stroke-width="1.9"/><svg x="280.1" y="550.6" width="59.1" height="11.8" viewBox="280.1 550.6 59.1 11.8"><rect x="280.1" y="550.6" width="59.1" height="11.8" fill="#800080" /><text transform="translate(280.9,557.1) scale(0.8,1) rotate(0.03)" font-size="6.6" fill="#fff" stroke="#fff" stroke-width="0.14">SI K0000067</text><text transform="translate(280.9,564.1) scale(0.8,1) rotate(0.03)" font-size="6.6" fill="#fff" stroke="#fff" stroke-width="0.14">LIM. TVA. ##X2000X10</text></svg><rect x="280.1" y="550.6" width="59.1" height="11.8" fill="none" stroke="#b090b0" stroke-width="0.5" /><rect x="13.3" y="569.6" width="474.7" height="9.8" fill="#f1f1f1" /><path d="M18.3,572.6 L16.5,574.4 L18.3,576.2" fill="none" stroke="#444" stroke-width="0.8"/><rect x="22.4" y="570.9" width="351.4" height="7.0" fill="#c9c9c9" /><line x1="13.3" y1="569.5" x2="488.0" y2="569.5" stroke="#dadada" stroke-width="0.6"/><line x1="13.3" y1="579.5" x2="488.0" y2="579.5" stroke="#e2e2e2" stroke-width="0.6"/><line x1="13.3" y1="588.4" x2="488.0" y2="588.4" stroke="#4a4a4a" stroke-width="1.2"/><rect x="425.7" y="65.0" width="494.3" height="555.0" fill="rgba(0,0,0,0.042)" rx="10"/></svg></div>
<div class="win" style="left:441.9px;top:74.0px;width:458.6px;height:515.0px;box-shadow:0 0 7px 1px rgba(0,0,0,.45), 0 -2.5px 5px 0 rgba(0,0,0,.35), -2px 0 3px 0 rgba(0,0,0,.25);z-index:2"><svg width="458.6" height="515.0" viewBox="441.9 74.0 458.6 515.0"><rect x="441.9" y="74.0" width="458.6" height="515.0" fill="#f5f5f5" /><rect x="446.7" y="76.8" width="7.0" height="7.6" fill="#f4f7fb" stroke="#2c5c9c" stroke-width="0.9" rx="0.9"/><text transform="translate(450.3,82.7) scale(0.84,1) rotate(0.03)" font-size="5.928000000000007" fill="#163a78" text-anchor="middle" font-weight="bold" stroke="#163a78" stroke-width="0.3">IQ</text><text transform="translate(457.0,83.1) scale(0.875,1) rotate(0.03)" font-size="6.9" fill="#222" stroke="#222" stroke-width="0.14">Work Orders Information</text><line x1="441.9" y1="88.2" x2="900.5" y2="88.2" stroke="#e6e6e6" stroke-width="0.6"/><text transform="translate(450.7,96.0) scale(0.944,1) rotate(0.03)" font-size="6.2" fill="#222" stroke="#222" stroke-width="0.14">Work Order #</text><text transform="translate(494.5,96.0) scale(0.888,1) rotate(0.03)" font-size="6.2" fill="#222" stroke="#222" stroke-width="0.14">Item #</text><text transform="translate(525.3,96.0) scale(0.931,1) rotate(0.03)" font-size="6.2" fill="#222" stroke="#222" stroke-width="0.14">Item Description</text><text transform="translate(569.0,96.0) scale(0.892,1) rotate(0.03)" font-size="6.2" fill="#222" stroke="#222" stroke-width="0.14">MFG #</text><text transform="translate(598.3,96.0) scale(0.881,1) rotate(0.03)" font-size="6.2" fill="#222" stroke="#222" stroke-width="0.14">Bucket</text><text transform="translate(627.9,96.0) scale(0.939,1) rotate(0.03)" font-size="6.2" fill="#222" stroke="#222" stroke-width="0.14">Production Hours</text><text transform="translate(676.0,96.0) scale(0.879,1) rotate(0.03)" font-size="6.2" fill="#222" stroke="#222" stroke-width="0.14">Cycles Required</text><text transform="translate(719.8,96.0) scale(0.924,1) rotate(0.03)" font-size="6.2" fill="#222" stroke="#222" stroke-width="0.14">Must Start</text><line x1="449.6" y1="89.6" x2="449.6" y2="98.2" stroke="#e2e2e2" stroke-width="0.6"/><line x1="493.2" y1="89.6" x2="493.2" y2="98.2" stroke="#e2e2e2" stroke-width="0.6"/><line x1="524.0" y1="89.6" x2="524.0" y2="98.2" stroke="#e2e2e2" stroke-width="0.6"/><line x1="567.8" y1="89.6" x2="567.8" y2="98.2" stroke="#e2e2e2" stroke-width="0.6"/><line x1="597.0" y1="89.6" x2="597.0" y2="98.2" stroke="#e2e2e2" stroke-width="0.6"/><line x1="626.4" y1="89.6" x2="626.4" y2="98.2" stroke="#e2e2e2" stroke-width="0.6"/><line x1="674.6" y1="89.6" x2="674.6" y2="98.2" stroke="#e2e2e2" stroke-width="0.6"/><line x1="718.4" y1="89.6" x2="718.4" y2="98.2" stroke="#e2e2e2" stroke-width="0.6"/><line x1="441.9" y1="98.4" x2="900.5" y2="98.4" stroke="#e4e4e4" stroke-width="0.6"/><path d="M444.8,99.7 L448.4,102.8 L444.8,105.9 Z" fill="#000"/><text transform="translate(451.0,105.1) scale(0.863,1) rotate(0.03)" font-size="6.2" fill="#1c1c1c" stroke="#1c1c1c" stroke-width="0.14">4550</text><text transform="translate(494.8,105.1) scale(0.831,1) rotate(0.03)" font-size="6.2" fill="#1c1c1c" stroke="#1c1c1c" stroke-width="0.14">S0000041</text><text transform="translate(525.6,105.1) scale(0.936,1) rotate(0.03)" font-size="6.2" fill="#1c1c1c" stroke="#1c1c1c" stroke-width="0.14">Sklop kotla N2</text><text transform="translate(569.7,105.1) scale(0.842,1) rotate(0.03)" font-size="6.2" fill="#1c1c1c" stroke="#1c1c1c" stroke-width="0.14">S0000041</text><text transform="translate(672.7,105.1) scale(0.855,1) rotate(0.03)" font-size="6.2" fill="#1c1c1c" text-anchor="end" stroke="#1c1c1c" stroke-width="0.14">727.416667</text><text transform="translate(716.4,105.1) scale(0.827,1) rotate(0.03)" font-size="6.2" fill="#1c1c1c" text-anchor="end" stroke="#1c1c1c" stroke-width="0.14">64</text><text transform="translate(720.2,105.1) scale(0.882,1) rotate(0.03)" font-size="6.2" fill="#1c1c1c" stroke="#1c1c1c" stroke-width="0.14">11/16/2022 ‹</text><line x1="449.6" y1="107.4" x2="900.5" y2="107.4" stroke="#efefef" stroke-width="0.5"/><text transform="translate(451.0,114.0) scale(0.863,1) rotate(0.03)" font-size="6.2" fill="#1c1c1c" stroke="#1c1c1c" stroke-width="0.14">4550</text><text transform="translate(494.8,114.0) scale(0.831,1) rotate(0.03)" font-size="6.2" fill="#1c1c1c" stroke="#1c1c1c" stroke-width="0.14">S0000041</text><text transform="translate(525.6,114.0) scale(0.936,1) rotate(0.03)" font-size="6.2" fill="#1c1c1c" stroke="#1c1c1c" stroke-width="0.14">Sklop kotla N2</text><text transform="translate(569.7,114.0) scale(0.842,1) rotate(0.03)" font-size="6.2" fill="#1c1c1c" stroke="#1c1c1c" stroke-width="0.14">S0000041</text><text transform="translate(672.7,114.0) scale(0.855,1) rotate(0.03)" font-size="6.2" fill="#1c1c1c" text-anchor="end" stroke="#1c1c1c" stroke-width="0.14">727.416667</text><text transform="translate(716.4,114.0) scale(0.827,1) rotate(0.03)" font-size="6.2" fill="#1c1c1c" text-anchor="end" stroke="#1c1c1c" stroke-width="0.14">64</text><text transform="translate(720.2,114.0) scale(0.882,1) rotate(0.03)" font-size="6.2" fill="#1c1c1c" stroke="#1c1c1c" stroke-width="0.14">11/16/2022 ‹</text><line x1="449.6" y1="116.3" x2="900.5" y2="116.3" stroke="#efefef" stroke-width="0.5"/><text transform="translate(451.0,122.9) scale(0.863,1) rotate(0.03)" font-size="6.2" fill="#1c1c1c" stroke="#1c1c1c" stroke-width="0.14">4550</text><text transform="translate(494.8,122.9) scale(0.831,1) rotate(0.03)" font-size="6.2" fill="#1c1c1c" stroke="#1c1c1c" stroke-width="0.14">S0000041</text><text transform="translate(525.6,122.9) scale(0.936,1) rotate(0.03)" font-size="6.2" fill="#1c1c1c" stroke="#1c1c1c" stroke-width="0.14">Sklop kotla N2</text><text transform="translate(569.7,122.9) scale(0.842,1) rotate(0.03)" font-size="6.2" fill="#1c1c1c" stroke="#1c1c1c" stroke-width="0.14">S0000041</text><text transform="translate(672.7,122.9) scale(0.855,1) rotate(0.03)" font-size="6.2" fill="#1c1c1c" text-anchor="end" stroke="#1c1c1c" stroke-width="0.14">727.416667</text><text transform="translate(716.4,122.9) scale(0.827,1) rotate(0.03)" font-size="6.2" fill="#1c1c1c" text-anchor="end" stroke="#1c1c1c" stroke-width="0.14">64</text><text transform="translate(720.2,122.9) scale(0.882,1) rotate(0.03)" font-size="6.2" fill="#1c1c1c" stroke="#1c1c1c" stroke-width="0.14">11/16/2022 ‹</text><line x1="449.6" y1="125.2" x2="900.5" y2="125.2" stroke="#efefef" stroke-width="0.5"/><text transform="translate(451.0,131.8) scale(0.863,1) rotate(0.03)" font-size="6.2" fill="#1c1c1c" stroke="#1c1c1c" stroke-width="0.14">4550</text><text transform="translate(494.8,131.8) scale(0.831,1) rotate(0.03)" font-size="6.2" fill="#1c1c1c" stroke="#1c1c1c" stroke-width="0.14">S0000041</text><text transform="translate(525.6,131.8) scale(0.936,1) rotate(0.03)" font-size="6.2" fill="#1c1c1c" stroke="#1c1c1c" stroke-width="0.14">Sklop kotla N2</text><text transform="translate(569.7,131.8) scale(0.842,1) rotate(0.03)" font-size="6.2" fill="#1c1c1c" stroke="#1c1c1c" stroke-width="0.14">S0000041</text><text transform="translate(672.7,131.8) scale(0.855,1) rotate(0.03)" font-size="6.2" fill="#1c1c1c" text-anchor="end" stroke="#1c1c1c" stroke-width="0.14">727.416667</text><text transform="translate(716.4,131.8) scale(0.827,1) rotate(0.03)" font-size="6.2" fill="#1c1c1c" text-anchor="end" stroke="#1c1c1c" stroke-width="0.14">64</text><text transform="translate(720.2,131.8) scale(0.882,1) rotate(0.03)" font-size="6.2" fill="#1c1c1c" stroke="#1c1c1c" stroke-width="0.14">11/16/2022 ‹</text><line x1="449.6" y1="134.1" x2="900.5" y2="134.1" stroke="#efefef" stroke-width="0.5"/><text transform="translate(451.0,140.7) scale(0.863,1) rotate(0.03)" font-size="6.2" fill="#1c1c1c" stroke="#1c1c1c" stroke-width="0.14">4550</text><text transform="translate(494.8,140.7) scale(0.831,1) rotate(0.03)" font-size="6.2" fill="#1c1c1c" stroke="#1c1c1c" stroke-width="0.14">S0000041</text><text transform="translate(525.6,140.7) scale(0.936,1) rotate(0.03)" font-size="6.2" fill="#1c1c1c" stroke="#1c1c1c" stroke-width="0.14">Sklop kotla N2</text><text transform="translate(569.7,140.7) scale(0.842,1) rotate(0.03)" font-size="6.2" fill="#1c1c1c" stroke="#1c1c1c" stroke-width="0.14">S0000041</text><text transform="translate(672.7,140.7) scale(0.855,1) rotate(0.03)" font-size="6.2" fill="#1c1c1c" text-anchor="end" stroke="#1c1c1c" stroke-width="0.14">727.416667</text><text transform="translate(716.4,140.7) scale(0.827,1) rotate(0.03)" font-size="6.2" fill="#1c1c1c" text-anchor="end" stroke="#1c1c1c" stroke-width="0.14">64</text><text transform="translate(720.2,140.7) scale(0.882,1) rotate(0.03)" font-size="6.2" fill="#1c1c1c" stroke="#1c1c1c" stroke-width="0.14">11/16/2022 ‹</text><line x1="449.6" y1="143.0" x2="900.5" y2="143.0" stroke="#efefef" stroke-width="0.5"/><rect x="441.9" y="150.4" width="458.6" height="8.0" fill="#f3f3f3" /><path d="M447.9,152.7 L446.1,154.4 L447.9,156.1" fill="none" stroke="#444" stroke-width="0.8"/><rect x="451.6" y="151.2" width="8.0" height="6.6" fill="#cdcdcd" /><rect x="441.9" y="158.6" width="458.6" height="2.2" fill="#fbfbfb" /><line x1="441.9" y1="160.8" x2="900.5" y2="160.8" stroke="#dcdcdc" stroke-width="0.7"/><g transform="translate(445.6,164.2) scale(0.95)"><path d="M0.2,4.2 L2.6,1.6 L8.1,1.6 L8.1,5.4 L6.2,7.7 L0.2,7.7 Z" fill="#93a4d0"/><path d="M2.2,2.6 L3.6,0.2 L7.6,0.2 L6.6,2.6 Z" fill="#f4f6fc" stroke="#9aa8cc" stroke-width="0.35"/><path d="M0.2,4.2 L6.2,4.2 L8.1,1.9 L8.1,5.4 L6.2,7.7 L0.2,7.7 Z" fill="#8496c8"/><path d="M0.2,4.2 L6.2,4.2 L6.2,7.7 L0.2,7.7 Z" fill="#a9b6dc"/><rect x="1" y="5.2" width="3.8" height="1.1" fill="#fbfbff"/><rect x="5" y="5.0" width="1.6" height="1.5" fill="#18d018"/></g><line x1="441.9" y1="174.0" x2="900.5" y2="174.0" stroke="#e2e2e2" stroke-width="0.7"/><svg x="443" y="174.2" width="449" height="397.6" viewBox="443 174.2 449 397.6"><rect x="481.1" y="170.0" width="6.7" height="405.0" fill="url(#h)" stroke="#1a1a2a" stroke-width="0.8" /><rect x="487.8" y="200.0" width="14.3" height="7.0" fill="url(#h)" /><line x1="487.8" y1="200.0" x2="502.1" y2="200.0" stroke="#8a8a92" stroke-width="0.8"/><line x1="487.8" y1="207.0" x2="502.1" y2="207.0" stroke="#1a1a2a" stroke-width="0.8"/><rect x="502.1" y="150.0" width="74.6" height="27.2" fill="#a6caf0" stroke="#808080" stroke-width="0.7" /><svg x="502.1" y="150.0" width="74.2" height="27.2" viewBox="502.1 150.0 74.2 27.2"><text transform="translate(502.9,156.3) scale(0.8,1) rotate(0.03)" font-size="6.6" fill="#000" stroke="#000" stroke-width="0.14">Process #:</text><text transform="translate(550.1,156.3) scale(0.8,1) rotate(0.03)" font-size="6.6" fill="#000" stroke="#000" stroke-width="0.14"></text><text transform="translate(502.9,162.6) scale(0.775,1) rotate(0.03)" font-size="6.6" fill="#000" stroke="#000" stroke-width="0.14"></text></svg><rect x="502.1" y="177.2" width="74.6" height="7.0" fill="#fbfbfb" stroke="#b4b4b4" stroke-width="0.6" /><rect x="502.8" y="178.0" width="2.0" height="5.5" fill="#00e8f0" /><text transform="translate(539.4,183.0) scale(0.9,1) rotate(0.03)" font-size="6.072" fill="#333" text-anchor="middle" stroke="#333" stroke-width="0.14">0.00%</text><rect x="535.6" y="225.3" width="7.0" height="349.7" fill="url(#h)" stroke="#1a1a2a" stroke-width="0.8" /><rect x="542.6" y="240.7" width="14.3" height="7.6" fill="url(#h)" /><line x1="542.6" y1="240.7" x2="556.9" y2="240.7" stroke="#8a8a92" stroke-width="0.8"/><line x1="542.6" y1="248.3" x2="556.9" y2="248.3" stroke="#1a1a2a" stroke-width="0.8"/><rect x="542.6" y="281.8" width="14.3" height="7.0" fill="url(#h)" /><line x1="542.6" y1="281.8" x2="556.9" y2="281.8" stroke="#8a8a92" stroke-width="0.8"/><line x1="542.6" y1="288.8" x2="556.9" y2="288.8" stroke="#1a1a2a" stroke-width="0.8"/><rect x="542.6" y="322.6" width="14.3" height="7.0" fill="url(#h)" /><line x1="542.6" y1="322.6" x2="556.9" y2="322.6" stroke="#8a8a92" stroke-width="0.8"/><line x1="542.6" y1="329.6" x2="556.9" y2="329.6" stroke="#1a1a2a" stroke-width="0.8"/><rect x="542.6" y="404.0" width="14.3" height="7.4" fill="url(#h)" /><line x1="542.6" y1="404.0" x2="556.9" y2="404.0" stroke="#8a8a92" stroke-width="0.8"/><line x1="542.6" y1="411.4" x2="556.9" y2="411.4" stroke="#1a1a2a" stroke-width="0.8"/><rect x="542.6" y="526.0" width="14.3" height="7.6" fill="url(#h)" /><line x1="542.6" y1="526.0" x2="556.9" y2="526.0" stroke="#8a8a92" stroke-width="0.8"/><line x1="542.6" y1="533.6" x2="556.9" y2="533.6" stroke="#1a1a2a" stroke-width="0.8"/><rect x="502.1" y="190.0" width="74.6" height="27.7" fill="#a6caf0" stroke="#808080" stroke-width="0.7" /><svg x="502.1" y="190.0" width="74.2" height="27.7" viewBox="502.1 190.0 74.2 27.7"><text transform="translate(502.9,196.4) scale(0.8,1) rotate(0.03)" font-size="6.6" fill="#000" stroke="#000" stroke-width="0.14">Process #:</text><text transform="translate(550.1,196.4) scale(0.8,1) rotate(0.03)" font-size="6.6" fill="#000" stroke="#000" stroke-width="0.14">220676</text><text transform="translate(502.9,202.8) scale(0.775,1) rotate(0.03)" font-size="6.6" fill="#000" stroke="#000" stroke-width="0.14">Pakovanje II Plašta</text></svg><rect x="502.1" y="217.7" width="74.6" height="7.6" fill="#fbfbfb" stroke="#b4b4b4" stroke-width="0.6" /><rect x="502.8" y="218.5" width="2.1" height="6.1" fill="#00e8f0" /><text transform="translate(539.4,223.8) scale(0.9,1) rotate(0.03)" font-size="6.072" fill="#333" text-anchor="middle" stroke="#333" stroke-width="0.14">0.00%</text><line x1="576.7" y1="203.7" x2="589.2" y2="203.7" stroke="#000" stroke-width="1.9"/><svg x="589.2" y="199.4" width="56.9" height="11.3" viewBox="589.2 199.4 56.9 11.3"><rect x="589.2" y="199.4" width="56.9" height="11.3" fill="#fcfcfc" /><text transform="translate(590.0,205.7) scale(0.8,1) rotate(0.03)" font-size="6.3" fill="#111" stroke="#111" stroke-width="0.14">FP SW-14800</text><text transform="translate(590.0,212.0) scale(0.8,1) rotate(0.03)" font-size="6.3" fill="#111" stroke="#111" stroke-width="0.14">Meas: Immediate</text></svg><rect x="589.2" y="199.4" width="56.9" height="11.3" fill="none" stroke="#666" stroke-width="0.6" /><rect x="642.9" y="195.5" width="3.3" height="3.3" fill="#d80000" /><rect x="556.9" y="230.7" width="74.0" height="28.0" fill="#000080" stroke="#8a8aa8" stroke-width="0.6" /><text transform="translate(557.7,237.1) scale(0.8,1) rotate(0.03)" font-size="6.6" fill="#fff" stroke="#fff" stroke-width="0.14">Type:</text><text transform="translate(581.3,237.1) scale(0.8,1) rotate(0.03)" font-size="6.6" fill="#fff" stroke="#fff" stroke-width="0.14">LASER</text><text transform="translate(557.7,243.6) scale(0.8,1) rotate(0.03)" font-size="6.6" fill="#fff" stroke="#fff" stroke-width="0.14">Mfg #:</text><text transform="translate(581.3,243.6) scale(0.8,1) rotate(0.03)" font-size="6.6" fill="#fff" stroke="#fff" stroke-width="0.14">N2NOVO01</text><text transform="translate(557.7,250.1) scale(0.8,1) rotate(0.03)" font-size="6.6" fill="#fff" stroke="#fff" stroke-width="0.14">Rate/Hr:</text><text transform="translate(581.3,250.1) scale(0.8,1) rotate(0.03)" font-size="6.6" fill="#fff" stroke="#fff" stroke-width="0.14">40.00</text><text transform="translate(557.7,256.6) scale(0.8,1) rotate(0.03)" font-size="6.6" fill="#fff" stroke="#fff" stroke-width="0.14">Item #:</text><text transform="translate(581.3,256.6) scale(0.8,1) rotate(0.03)" font-size="6.6" fill="#fff" stroke="#fff" stroke-width="0.14">FP D0000249</text><line x1="630.9" y1="244.4" x2="644.0" y2="244.4" stroke="#000" stroke-width="1.9"/><svg x="644.0" y="240.1" width="56.9" height="11.6" viewBox="644.0 240.1 56.9 11.6"><rect x="644.0" y="240.1" width="56.9" height="11.6" fill="#800080" /><text transform="translate(644.8,246.4) scale(0.8,1) rotate(0.03)" font-size="6.3" fill="#fff" stroke="#fff" stroke-width="0.14">SI K0000106</text><text transform="translate(644.8,253.1) scale(0.8,1) rotate(0.03)" font-size="6.3" fill="#fff" stroke="#fff" stroke-width="0.14">LIM. HVA. #0.7x2000x</text></svg><rect x="644.0" y="240.1" width="56.9" height="11.6" fill="none" stroke="#b090b0" stroke-width="0.5" /><rect x="556.9" y="271.8" width="74.0" height="28.0" fill="#000080" stroke="#8a8aa8" stroke-width="0.6" /><text transform="translate(557.7,278.2) scale(0.8,1) rotate(0.03)" font-size="6.6" fill="#fff" stroke="#fff" stroke-width="0.14">Type:</text><text transform="translate(581.3,278.2) scale(0.8,1) rotate(0.03)" font-size="6.6" fill="#fff" stroke="#fff" stroke-width="0.14">LASER</text><text transform="translate(557.7,284.7) scale(0.8,1) rotate(0.03)" font-size="6.6" fill="#fff" stroke="#fff" stroke-width="0.14">Mfg #:</text><text transform="translate(581.3,284.7) scale(0.8,1) rotate(0.03)" font-size="6.6" fill="#fff" stroke="#fff" stroke-width="0.14">N2_SARKA_2</text><text transform="translate(557.7,291.2) scale(0.8,1) rotate(0.03)" font-size="6.6" fill="#fff" stroke="#fff" stroke-width="0.14">Rate/Hr:</text><text transform="translate(581.3,291.2) scale(0.8,1) rotate(0.03)" font-size="6.6" fill="#fff" stroke="#fff" stroke-width="0.14">154285.71</text><text transform="translate(557.7,297.7) scale(0.8,1) rotate(0.03)" font-size="6.6" fill="#fff" stroke="#fff" stroke-width="0.14">Item #:</text><text transform="translate(581.3,297.7) scale(0.8,1) rotate(0.03)" font-size="6.6" fill="#fff" stroke="#fff" stroke-width="0.14">FG SW-14798</text><rect x="619.9" y="289.0" width="10.7" height="10.2" fill="#dcdcdc" stroke="#f6f6f6" stroke-width="0.5" /><path d="M620.1,299.2 L630.5,299.2 L630.5,289.2" fill="none" stroke="#8c8c8c" stroke-width="0.5"/><rect x="622.5" y="290.3" width="1.9" height="1.0" fill="#e6d24a" /><rect x="622.5" y="291.0" width="3.4" height="2.7" fill="#f2e05a" /><path d="M622.03,294.75 L624.58,294.75 L627.35,296.59 M625.44,295.37 L627.78,294.34" fill="none" stroke="#111" stroke-width="0.59"/><rect x="627.8" y="293.7" width="1.6" height="1.1" fill="#111" /><rect x="627.2" y="295.8" width="2.1" height="1.5" fill="#111" /><line x1="630.9" y1="285.4" x2="644.0" y2="285.4" stroke="#000" stroke-width="1.9"/><svg x="644.0" y="280.9" width="56.9" height="11.9" viewBox="644.0 280.9 56.9 11.9"><rect x="644.0" y="280.9" width="56.9" height="11.9" fill="#800080" /><text transform="translate(644.8,287.3) scale(0.8,1) rotate(0.03)" font-size="6.3" fill="#fff" stroke="#fff" stroke-width="0.14">SI K0000107-R1</text><text transform="translate(644.8,294.0) scale(0.8,1) rotate(0.03)" font-size="6.3" fill="#fff" stroke="#fff" stroke-width="0.14">LIM. TVA. #8X1500X30</text></svg><rect x="644.0" y="280.9" width="56.9" height="11.9" fill="none" stroke="#b090b0" stroke-width="0.5" /><rect x="697.7" y="277.0" width="3.3" height="3.3" fill="#d80000" /><path d="M590.4,339.9 L597.4,339.9 L597.4,363.0 L611.7,363.0 L611.7,370.0 L590.4,370.0 Z" fill="url(#h)" stroke="#1a1a2a" stroke-width="0.8"/><rect x="556.9" y="312.2" width="74.0" height="27.7" fill="#000080" stroke="#8a8aa8" stroke-width="0.6" /><text transform="translate(557.7,318.6) scale(0.8,1) rotate(0.03)" font-size="6.6" fill="#fff" stroke="#fff" stroke-width="0.14">Type:</text><text transform="translate(581.3,318.6) scale(0.8,1) rotate(0.03)" font-size="6.6" fill="#fff" stroke="#fff" stroke-width="0.14">SAVIJACICE</text><text transform="translate(557.7,325.0) scale(0.8,1) rotate(0.03)" font-size="6.6" fill="#fff" stroke="#fff" stroke-width="0.14">Mfg #:</text><text transform="translate(581.3,325.0) scale(0.8,1) rotate(0.03)" font-size="6.6" fill="#fff" stroke="#fff" stroke-width="0.14">D0002214</text><text transform="translate(557.7,331.5) scale(0.8,1) rotate(0.03)" font-size="6.6" fill="#fff" stroke="#fff" stroke-width="0.14">Route #:</text><text transform="translate(581.3,331.5) scale(0.8,1) rotate(0.03)" font-size="6.6" fill="#fff" stroke="#fff" stroke-width="0.14">20</text><text transform="translate(557.7,337.9) scale(0.8,1) rotate(0.03)" font-size="6.6" fill="#fff" stroke="#fff" stroke-width="0.14">Rate/Hr:</text><text transform="translate(581.3,337.9) scale(0.8,1) rotate(0.03)" font-size="6.6" fill="#fff" stroke="#fff" stroke-width="0.14">20.00</text><rect x="611.7" y="353.0" width="74.0" height="27.7" fill="#000080" stroke="#8a8aa8" stroke-width="0.6" /><text transform="translate(612.5,359.4) scale(0.8,1) rotate(0.03)" font-size="6.6" fill="#fff" stroke="#fff" stroke-width="0.14">Type:</text><text transform="translate(636.1,359.4) scale(0.8,1) rotate(0.03)" font-size="6.6" fill="#fff" stroke="#fff" stroke-width="0.14">LASER</text><text transform="translate(612.5,365.8) scale(0.8,1) rotate(0.03)" font-size="6.6" fill="#fff" stroke="#fff" stroke-width="0.14">Mfg #:</text><text transform="translate(636.1,365.8) scale(0.8,1) rotate(0.03)" font-size="6.6" fill="#fff" stroke="#fff" stroke-width="0.14">N2_ZINK_08</text><text transform="translate(612.5,372.3) scale(0.8,1) rotate(0.03)" font-size="6.6" fill="#fff" stroke="#fff" stroke-width="0.14">Rate/Hr:</text><text transform="translate(636.1,372.3) scale(0.8,1) rotate(0.03)" font-size="6.6" fill="#fff" stroke="#fff" stroke-width="0.14">37.50</text><text transform="translate(612.5,378.7) scale(0.8,1) rotate(0.03)" font-size="6.6" fill="#fff" stroke="#fff" stroke-width="0.14">Item #:</text><text transform="translate(636.1,378.7) scale(0.8,1) rotate(0.03)" font-size="6.6" fill="#fff" stroke="#fff" stroke-width="0.14">FP D0002214-10</text><line x1="685.7" y1="366.7" x2="698.5" y2="366.7" stroke="#000" stroke-width="1.9"/><svg x="698.5" y="362.5" width="56.9" height="11.4" viewBox="698.5 362.5 56.9 11.4"><rect x="698.5" y="362.5" width="56.9" height="11.4" fill="#800080" /><text transform="translate(699.3,368.8) scale(0.8,1) rotate(0.03)" font-size="6.3" fill="#fff" stroke="#fff" stroke-width="0.14">SI K0000790</text><text transform="translate(699.3,375.4) scale(0.8,1) rotate(0.03)" font-size="6.3" fill="#fff" stroke="#fff" stroke-width="0.14">LIM. Pocinkovani 0.</text></svg><rect x="698.5" y="362.5" width="56.9" height="11.4" fill="none" stroke="#b090b0" stroke-width="0.5" /><path d="M590.4,422.1 L597.5,422.1 L597.5,445.0 L611.4,445.0 L611.4,451.8 L590.4,451.8 Z" fill="url(#h)" stroke="#1a1a2a" stroke-width="0.8"/><rect x="556.8" y="394.3" width="74.2" height="27.8" fill="#000080" stroke="#8a8aa8" stroke-width="0.6" /><text transform="translate(557.6,400.7) scale(0.8,1) rotate(0.03)" font-size="6.6" fill="#fff" stroke="#fff" stroke-width="0.14">Type:</text><text transform="translate(581.2,400.7) scale(0.8,1) rotate(0.03)" font-size="6.6" fill="#fff" stroke="#fff" stroke-width="0.14">DIGIBEND</text><text transform="translate(557.6,407.1) scale(0.8,1) rotate(0.03)" font-size="6.6" fill="#fff" stroke="#fff" stroke-width="0.14">Mfg #:</text><text transform="translate(581.2,407.1) scale(0.8,1) rotate(0.03)" font-size="6.6" fill="#fff" stroke="#fff" stroke-width="0.14">SW-14801</text><text transform="translate(557.6,413.6) scale(0.8,1) rotate(0.03)" font-size="6.6" fill="#fff" stroke="#fff" stroke-width="0.14">Route #:</text><text transform="translate(581.2,413.6) scale(0.8,1) rotate(0.03)" font-size="6.6" fill="#fff" stroke="#fff" stroke-width="0.14">30</text><text transform="translate(557.6,420.1) scale(0.8,1) rotate(0.03)" font-size="6.6" fill="#fff" stroke="#fff" stroke-width="0.14">Rate/Hr:</text><text transform="translate(581.2,420.1) scale(0.8,1) rotate(0.03)" font-size="6.6" fill="#fff" stroke="#fff" stroke-width="0.14">20.00</text><rect x="620.0" y="411.4" width="10.7" height="10.1" fill="#dcdcdc" stroke="#f6f6f6" stroke-width="0.5" /><path d="M620.2,421.6 L630.6,421.6 L630.6,411.6" fill="none" stroke="#8c8c8c" stroke-width="0.5"/><rect x="622.5" y="412.6" width="1.9" height="1.0" fill="#e6d24a" /><rect x="622.5" y="413.3" width="3.4" height="2.6" fill="#f2e05a" /><path d="M622.10,417.09 L624.67,417.09 L627.44,418.91 M625.52,417.69 L627.87,416.68" fill="none" stroke="#111" stroke-width="0.59"/><rect x="627.9" y="416.1" width="1.6" height="1.1" fill="#111" /><rect x="627.3" y="418.1" width="2.1" height="1.5" fill="#111" /><path d="M645.0,462.9 L652.1,462.9 L652.1,486.0 L666.1,486.0 L666.1,492.9 L645.0,492.9 Z" fill="url(#h)" stroke="#1a1a2a" stroke-width="0.8"/><rect x="611.4" y="434.6" width="74.3" height="28.3" fill="#000080" stroke="#8a8aa8" stroke-width="0.6" /><text transform="translate(612.2,441.1) scale(0.8,1) rotate(0.03)" font-size="6.6" fill="#fff" stroke="#fff" stroke-width="0.14">Type:</text><text transform="translate(635.8,441.1) scale(0.8,1) rotate(0.03)" font-size="6.6" fill="#fff" stroke="#fff" stroke-width="0.14">SAVIJACICE</text><text transform="translate(612.2,447.6) scale(0.8,1) rotate(0.03)" font-size="6.6" fill="#fff" stroke="#fff" stroke-width="0.14">Mfg #:</text><text transform="translate(635.8,447.6) scale(0.8,1) rotate(0.03)" font-size="6.6" fill="#fff" stroke="#fff" stroke-width="0.14">SW-14801</text><text transform="translate(612.2,454.2) scale(0.8,1) rotate(0.03)" font-size="6.6" fill="#fff" stroke="#fff" stroke-width="0.14">Route #:</text><text transform="translate(635.8,454.2) scale(0.8,1) rotate(0.03)" font-size="6.6" fill="#fff" stroke="#fff" stroke-width="0.14">20</text><text transform="translate(612.2,460.8) scale(0.8,1) rotate(0.03)" font-size="6.6" fill="#fff" stroke="#fff" stroke-width="0.14">Rate/Hr:</text><text transform="translate(635.8,460.8) scale(0.8,1) rotate(0.03)" font-size="6.6" fill="#fff" stroke="#fff" stroke-width="0.14">20.00</text><rect x="666.1" y="475.4" width="74.6" height="28.2" fill="#000080" stroke="#8a8aa8" stroke-width="0.6" /><text transform="translate(666.9,481.8) scale(0.8,1) rotate(0.03)" font-size="6.6" fill="#fff" stroke="#fff" stroke-width="0.14">Type:</text><text transform="translate(690.5,481.8) scale(0.8,1) rotate(0.03)" font-size="6.6" fill="#fff" stroke="#fff" stroke-width="0.14">LASER</text><text transform="translate(666.9,488.4) scale(0.8,1) rotate(0.03)" font-size="6.6" fill="#fff" stroke="#fff" stroke-width="0.14">Mfg #:</text><text transform="translate(690.5,488.4) scale(0.8,1) rotate(0.03)" font-size="6.6" fill="#fff" stroke="#fff" stroke-width="0.14">N2_BRAVICA_3</text><text transform="translate(666.9,495.0) scale(0.8,1) rotate(0.03)" font-size="6.6" fill="#fff" stroke="#fff" stroke-width="0.14">Rate/Hr:</text><text transform="translate(690.5,495.0) scale(0.8,1) rotate(0.03)" font-size="6.6" fill="#fff" stroke="#fff" stroke-width="0.14">498.75</text><text transform="translate(666.9,501.5) scale(0.8,1) rotate(0.03)" font-size="6.6" fill="#fff" stroke="#fff" stroke-width="0.14">Item #:</text><text transform="translate(690.5,501.5) scale(0.8,1) rotate(0.03)" font-size="6.6" fill="#fff" stroke="#fff" stroke-width="0.14">FP SW-14801-10</text><line x1="740.7" y1="489.3" x2="753.6" y2="489.3" stroke="#000" stroke-width="1.9"/><svg x="753.6" y="485.3" width="56.4" height="11.1" viewBox="753.6 485.3 56.4 11.1"><rect x="753.6" y="485.3" width="56.4" height="11.1" fill="#800080" /><text transform="translate(754.4,491.5) scale(0.8,1) rotate(0.03)" font-size="6.3" fill="#fff" stroke="#fff" stroke-width="0.14">SI K0000109-R3</text><text transform="translate(754.4,498.1) scale(0.8,1) rotate(0.03)" font-size="6.3" fill="#fff" stroke="#fff" stroke-width="0.14">LIM. TVA. #3X1500X30</text></svg><rect x="753.6" y="485.3" width="56.4" height="11.1" fill="none" stroke="#b090b0" stroke-width="0.5" /><path d="M590.4,544.3 L597.5,544.3 L597.5,567.6 L611.4,567.6 L611.4,574.5 L590.4,574.5 Z" fill="url(#h)" stroke="#1a1a2a" stroke-width="0.8"/><rect x="556.8" y="516.4" width="74.2" height="27.9" fill="#000080" stroke="#8a8aa8" stroke-width="0.6" /><text transform="translate(557.6,522.8) scale(0.8,1) rotate(0.03)" font-size="6.6" fill="#fff" stroke="#fff" stroke-width="0.14">Type:</text><text transform="translate(581.2,522.8) scale(0.8,1) rotate(0.03)" font-size="6.6" fill="#fff" stroke="#fff" stroke-width="0.14">CNC GLODALICA</text><text transform="translate(557.6,529.3) scale(0.8,1) rotate(0.03)" font-size="6.6" fill="#fff" stroke="#fff" stroke-width="0.14">Mfg #:</text><text transform="translate(581.2,529.3) scale(0.8,1) rotate(0.03)" font-size="6.6" fill="#fff" stroke="#fff" stroke-width="0.14">SW-14800</text><text transform="translate(557.6,535.8) scale(0.8,1) rotate(0.03)" font-size="6.6" fill="#fff" stroke="#fff" stroke-width="0.14">Route #:</text><text transform="translate(581.2,535.8) scale(0.8,1) rotate(0.03)" font-size="6.6" fill="#fff" stroke="#fff" stroke-width="0.14">30</text><text transform="translate(557.6,542.3) scale(0.8,1) rotate(0.03)" font-size="6.6" fill="#fff" stroke="#fff" stroke-width="0.14">Rate/Hr:</text><text transform="translate(581.2,542.3) scale(0.8,1) rotate(0.03)" font-size="6.6" fill="#fff" stroke="#fff" stroke-width="0.14">12.00</text><rect x="620.0" y="533.6" width="10.7" height="10.2" fill="#dcdcdc" stroke="#f6f6f6" stroke-width="0.5" /><path d="M620.2,543.8 L630.6,543.8 L630.6,533.8" fill="none" stroke="#8c8c8c" stroke-width="0.5"/><rect x="622.5" y="534.8" width="1.9" height="1.0" fill="#e6d24a" /><rect x="622.5" y="535.5" width="3.4" height="2.6" fill="#f2e05a" /><path d="M622.10,539.27 L624.67,539.27 L627.44,541.10 M625.52,539.88 L627.87,538.86" fill="none" stroke="#111" stroke-width="0.59"/><rect x="627.9" y="538.3" width="1.6" height="1.1" fill="#111" /><rect x="627.3" y="540.3" width="2.1" height="1.5" fill="#111" /><rect x="611.4" y="556.8" width="74.3" height="28.0" fill="#000080" stroke="#8a8aa8" stroke-width="0.6" /><text transform="translate(612.2,563.2) scale(0.8,1) rotate(0.03)" font-size="6.6" fill="#fff" stroke="#fff" stroke-width="0.14">Type:</text><text transform="translate(635.8,563.2) scale(0.8,1) rotate(0.03)" font-size="6.6" fill="#fff" stroke="#fff" stroke-width="0.14">SAVIJACICE</text><text transform="translate(612.2,569.7) scale(0.8,1) rotate(0.03)" font-size="6.6" fill="#fff" stroke="#fff" stroke-width="0.14">Mfg #:</text><text transform="translate(635.8,569.7) scale(0.8,1) rotate(0.03)" font-size="6.6" fill="#fff" stroke="#fff" stroke-width="0.14">SW-14800</text><text transform="translate(612.2,576.2) scale(0.8,1) rotate(0.03)" font-size="6.6" fill="#fff" stroke="#fff" stroke-width="0.14">Route #:</text><text transform="translate(635.8,576.2) scale(0.8,1) rotate(0.03)" font-size="6.6" fill="#fff" stroke="#fff" stroke-width="0.14">20</text><text transform="translate(612.2,582.7) scale(0.8,1) rotate(0.03)" font-size="6.6" fill="#fff" stroke="#fff" stroke-width="0.14">Rate/Hr:</text><text transform="translate(635.8,582.7) scale(0.8,1) rotate(0.03)" font-size="6.6" fill="#fff" stroke="#fff" stroke-width="0.14">20.00</text></svg><line x1="442.3" y1="74.0" x2="442.3" y2="589.0" stroke="#4a4a4a" stroke-width="0.9"/><rect x="442.7" y="571.8" width="449.3" height="8.8" fill="#f0f0f0" /><line x1="441.9" y1="571.7" x2="892.0" y2="571.7" stroke="#bdbdbd" stroke-width="0.7"/><path d="M447.5,574.5 L445.8,576.2 L447.5,577.9" fill="none" stroke="#444" stroke-width="0.8"/><rect x="451.2" y="573.0" width="337.5" height="6.4" fill="#c9c9c9" /><rect x="892.0" y="174.2" width="8.5" height="406.0" fill="#f1f1f1" /><line x1="892.0" y1="174.2" x2="892.0" y2="571.8" stroke="#bdbdbd" stroke-width="0.7"/><path d="M894.6,566.9 L896.3,568.6 L898.0,566.9" fill="none" stroke="#444" stroke-width="0.8"/><path d="M895.4,574.3 L897.1,576.0 L895.4,577.7" fill="none" stroke="#444" stroke-width="0.8"/><rect x="729.4" y="22.0" width="395.6" height="460.8" fill="rgba(0,0,0,0.042)" rx="10"/></svg></div>
<div class="win" style="left:744.8px;top:37.6px;width:363.1px;height:431.2px;box-shadow:0 0 7px 1px rgba(0,0,0,.45), 0 -2px 4px 0 rgba(0,0,0,.3), -1px 0 3px 0 rgba(0,0,0,.15);z-index:3"><svg width="363.1" height="431.2" viewBox="744.8 37.6 363.1 431.2"><rect x="744.8" y="37.6" width="363.1" height="431.2" fill="#f6f6f6" /><line x1="1066.1" y1="43.5" x2="1069.7" y2="43.5" stroke="#000" stroke-width="0.55"/><rect x="1081.4" y="41.5" width="3.6" height="3.6" fill="none" stroke="#222" stroke-width="0.5" /><line x1="1097.0" y1="41.5" x2="1100.6" y2="45.1" stroke="#222" stroke-width="0.5"/><line x1="1097.0" y1="45.1" x2="1100.6" y2="41.5" stroke="#222" stroke-width="0.5"/><text transform="translate(768.7,56.0) scale(0.848,1) rotate(0.03)" font-size="4.7" fill="#222" text-anchor="end" stroke="#222" stroke-width="0.13">Item Description</text><text transform="translate(769.7,56.0) scale(0.815,1) rotate(0.03)" font-size="4.7" fill="#222" stroke="#222" stroke-width="0.13">MFG #</text><text transform="translate(789.9,56.0) scale(0.835,1) rotate(0.03)" font-size="4.7" fill="#222" stroke="#222" stroke-width="0.13">Bucket</text><text transform="translate(809.8,56.0) scale(0.867,1) rotate(0.03)" font-size="4.7" fill="#222" stroke="#222" stroke-width="0.13">Production Hours</text><text transform="translate(843.0,56.0) scale(0.803,1) rotate(0.03)" font-size="4.7" fill="#222" stroke="#222" stroke-width="0.13">Cycles Required</text><text transform="translate(873.1,56.0) scale(0.831,1) rotate(0.03)" font-size="4.7" fill="#222" stroke="#222" stroke-width="0.13">Must Start</text><text transform="translate(895.4,56.0) scale(0.806,1) rotate(0.03)" font-size="4.7" fill="#222" stroke="#222" stroke-width="0.13">Must End</text><text transform="translate(914.2,56.0) scale(0.814,1) rotate(0.03)" font-size="4.7" fill="#222" stroke="#222" stroke-width="0.13">Work Center #</text><text transform="translate(940.2,56.0) scale(0.856,1) rotate(0.03)" font-size="4.7" fill="#222" stroke="#222" stroke-width="0.13">Schedule Position</text><text transform="translate(975.1,56.0) scale(0.818,1) rotate(0.03)" font-size="4.7" fill="#222" stroke="#222" stroke-width="0.13">Schedule Start Time</text><text transform="translate(1013.1,56.0) scale(0.765,1) rotate(0.03)" font-size="4.7" fill="#222" stroke="#222" stroke-width="0.13">Schedule End Time</text><text transform="translate(1044.6,56.0) scale(0.773,1) rotate(0.03)" font-size="4.7" fill="#222" stroke="#222" stroke-width="0.13">MFG Quantity</text><text transform="translate(1068.9,56.0) scale(1.039,1) rotate(0.03)" font-size="4.7" fill="#222" stroke="#222" stroke-width="0.13">Route #</text><text transform="translate(1094.6,56.0) scale(0.766,1) rotate(0.03)" font-size="4.7" fill="#222" stroke="#222" stroke-width="0.13">PTJ</text><line x1="744.8" y1="58.4" x2="1101.0" y2="58.4" stroke="#e6e6e6" stroke-width="0.5"/><text transform="translate(764.9,63.3) scale(0.851,1) rotate(0.03)" font-size="4.7" fill="#1c1c1c" text-anchor="end" stroke="#1c1c1c" stroke-width="0.13">Sklop kotla N2</text><text transform="translate(770.0,63.3) scale(0.77,1) rotate(0.03)" font-size="4.7" fill="#1c1c1c" stroke="#1c1c1c" stroke-width="0.13">S0000041</text><text transform="translate(840.7,63.3) scale(0.789,1) rotate(0.03)" font-size="4.7" fill="#1c1c1c" text-anchor="end" stroke="#1c1c1c" stroke-width="0.13">727.416667</text><text transform="translate(870.8,63.3) scale(0.784,1) rotate(0.03)" font-size="4.7" fill="#1c1c1c" text-anchor="end" stroke="#1c1c1c" stroke-width="0.13">64</text><text transform="translate(873.1,63.3) scale(0.814,1) rotate(0.03)" font-size="4.7" fill="#1c1c1c" stroke="#1c1c1c" stroke-width="0.13">11/16/2022 ‹</text><text transform="translate(896.0,63.3) scale(0.789,1) rotate(0.03)" font-size="4.7" fill="#1c1c1c" stroke="#1c1c1c" stroke-width="0.13">12/29/202</text><text transform="translate(914.2,63.3) scale(0.73,1) rotate(0.03)" font-size="4.7" fill="#1c1c1c" stroke="#1c1c1c" stroke-width="0.13">02-ISPITIVANJE</text><text transform="translate(973.0,63.3) scale(0.84,1) rotate(0.03)" font-size="4.7" fill="#1c1c1c" text-anchor="end" stroke="#1c1c1c" stroke-width="0.13">2</text><text transform="translate(975.8,63.3) scale(0.759,1) rotate(0.03)" font-size="4.7" fill="#1c1c1c" stroke="#1c1c1c" stroke-width="0.13">12/5/2022 9:18:00 AM</text><text transform="translate(1013.5,63.3) scale(0.763,1) rotate(0.03)" font-size="4.7" fill="#1c1c1c" stroke="#1c1c1c" stroke-width="0.13">12/7/2022 9:48:00 F</text><text transform="translate(1069.7,63.3) scale(0.731,1) rotate(0.03)" font-size="4.7" fill="#1c1c1c" text-anchor="end" stroke="#1c1c1c" stroke-width="0.13">64.00</text><text transform="translate(1092.2,63.3) scale(0.727,1) rotate(0.03)" font-size="4.7" fill="#1c1c1c" text-anchor="end" stroke="#1c1c1c" stroke-width="0.13">20</text><text transform="translate(764.9,70.8) scale(0.851,1) rotate(0.03)" font-size="4.7" fill="#1c1c1c" text-anchor="end" stroke="#1c1c1c" stroke-width="0.13">Sklop kotla N2</text><text transform="translate(770.0,70.8) scale(0.77,1) rotate(0.03)" font-size="4.7" fill="#1c1c1c" stroke="#1c1c1c" stroke-width="0.13">S0000041</text><text transform="translate(840.7,70.8) scale(0.789,1) rotate(0.03)" font-size="4.7" fill="#1c1c1c" text-anchor="end" stroke="#1c1c1c" stroke-width="0.13">727.416667</text><text transform="translate(870.8,70.8) scale(0.784,1) rotate(0.03)" font-size="4.7" fill="#1c1c1c" text-anchor="end" stroke="#1c1c1c" stroke-width="0.13">64</text><text transform="translate(873.1,70.8) scale(0.814,1) rotate(0.03)" font-size="4.7" fill="#1c1c1c" stroke="#1c1c1c" stroke-width="0.13">11/16/2022 ‹</text><text transform="translate(896.0,70.8) scale(0.789,1) rotate(0.03)" font-size="4.7" fill="#1c1c1c" stroke="#1c1c1c" stroke-width="0.13">12/29/202</text><text transform="translate(914.2,70.8) scale(0.73,1) rotate(0.03)" font-size="4.7" fill="#1c1c1c" stroke="#1c1c1c" stroke-width="0.13">02-ISPITIVANJE</text><text transform="translate(973.0,70.8) scale(0.84,1) rotate(0.03)" font-size="4.7" fill="#1c1c1c" text-anchor="end" stroke="#1c1c1c" stroke-width="0.13">1</text><text transform="translate(975.8,70.8) scale(0.754,1) rotate(0.03)" font-size="4.7" fill="#1c1c1c" stroke="#1c1c1c" stroke-width="0.13">11/16/2022 3:40:25 PM</text><text transform="translate(1013.5,70.8) scale(0.787,1) rotate(0.03)" font-size="4.7" fill="#1c1c1c" stroke="#1c1c1c" stroke-width="0.13">11/19/2022 7:40:25</text><text transform="translate(1069.7,70.8) scale(0.731,1) rotate(0.03)" font-size="4.7" fill="#1c1c1c" text-anchor="end" stroke="#1c1c1c" stroke-width="0.13">64.00</text><text transform="translate(1092.2,70.8) scale(0.727,1) rotate(0.03)" font-size="4.7" fill="#1c1c1c" text-anchor="end" stroke="#1c1c1c" stroke-width="0.13">20</text><text transform="translate(764.9,78.4) scale(0.851,1) rotate(0.03)" font-size="4.7" fill="#1c1c1c" text-anchor="end" stroke="#1c1c1c" stroke-width="0.13">Sklop kotla N2</text><text transform="translate(770.0,78.4) scale(0.77,1) rotate(0.03)" font-size="4.7" fill="#1c1c1c" stroke="#1c1c1c" stroke-width="0.13">S0000041</text><text transform="translate(840.7,78.4) scale(0.789,1) rotate(0.03)" font-size="4.7" fill="#1c1c1c" text-anchor="end" stroke="#1c1c1c" stroke-width="0.13">727.416667</text><text transform="translate(870.8,78.4) scale(0.784,1) rotate(0.03)" font-size="4.7" fill="#1c1c1c" text-anchor="end" stroke="#1c1c1c" stroke-width="0.13">64</text><text transform="translate(873.1,78.4) scale(0.814,1) rotate(0.03)" font-size="4.7" fill="#1c1c1c" stroke="#1c1c1c" stroke-width="0.13">11/16/2022 ‹</text><text transform="translate(896.0,78.4) scale(0.789,1) rotate(0.03)" font-size="4.7" fill="#1c1c1c" stroke="#1c1c1c" stroke-width="0.13">12/29/202</text><text transform="translate(914.2,78.4) scale(0.75,1) rotate(0.03)" font-size="4.7" fill="#1c1c1c" stroke="#1c1c1c" stroke-width="0.13">ROBOT 4</text><text transform="translate(973.0,78.4) scale(0.84,1) rotate(0.03)" font-size="4.7" fill="#1c1c1c" text-anchor="end" stroke="#1c1c1c" stroke-width="0.13">2</text><text transform="translate(975.8,78.4) scale(0.802,1) rotate(0.03)" font-size="4.7" fill="#1c1c1c" stroke="#1c1c1c" stroke-width="0.13">11/18/2022 12:55:00 ‹</text><text transform="translate(1013.5,78.4) scale(0.792,1) rotate(0.03)" font-size="4.7" fill="#1c1c1c" stroke="#1c1c1c" stroke-width="0.13">11/19/2022 10:01:0</text><text transform="translate(1069.7,78.4) scale(0.731,1) rotate(0.03)" font-size="4.7" fill="#1c1c1c" text-anchor="end" stroke="#1c1c1c" stroke-width="0.13">64.00</text><text transform="translate(1092.2,78.4) scale(0.727,1) rotate(0.03)" font-size="4.7" fill="#1c1c1c" text-anchor="end" stroke="#1c1c1c" stroke-width="0.13">20</text><text transform="translate(764.9,85.9) scale(0.851,1) rotate(0.03)" font-size="4.7" fill="#1c1c1c" text-anchor="end" stroke="#1c1c1c" stroke-width="0.13">Sklop kotla N2</text><text transform="translate(770.0,85.9) scale(0.77,1) rotate(0.03)" font-size="4.7" fill="#1c1c1c" stroke="#1c1c1c" stroke-width="0.13">S0000041</text><text transform="translate(840.7,85.9) scale(0.789,1) rotate(0.03)" font-size="4.7" fill="#1c1c1c" text-anchor="end" stroke="#1c1c1c" stroke-width="0.13">727.416667</text><text transform="translate(870.8,85.9) scale(0.784,1) rotate(0.03)" font-size="4.7" fill="#1c1c1c" text-anchor="end" stroke="#1c1c1c" stroke-width="0.13">64</text><text transform="translate(873.1,85.9) scale(0.814,1) rotate(0.03)" font-size="4.7" fill="#1c1c1c" stroke="#1c1c1c" stroke-width="0.13">11/16/2022 ‹</text><text transform="translate(896.0,85.9) scale(0.789,1) rotate(0.03)" font-size="4.7" fill="#1c1c1c" stroke="#1c1c1c" stroke-width="0.13">12/29/202</text><text transform="translate(914.2,85.9) scale(0.75,1) rotate(0.03)" font-size="4.7" fill="#1c1c1c" stroke="#1c1c1c" stroke-width="0.13">ROBOT 4</text><text transform="translate(973.0,85.9) scale(0.84,1) rotate(0.03)" font-size="4.7" fill="#1c1c1c" text-anchor="end" stroke="#1c1c1c" stroke-width="0.13">1</text><text transform="translate(975.8,85.9) scale(0.754,1) rotate(0.03)" font-size="4.7" fill="#1c1c1c" stroke="#1c1c1c" stroke-width="0.13">11/16/2022 3:40:25 PM</text><text transform="translate(1013.5,85.9) scale(0.787,1) rotate(0.03)" font-size="4.7" fill="#1c1c1c" stroke="#1c1c1c" stroke-width="0.13">11/17/2022 1:00:25</text><text transform="translate(1069.7,85.9) scale(0.731,1) rotate(0.03)" font-size="4.7" fill="#1c1c1c" text-anchor="end" stroke="#1c1c1c" stroke-width="0.13">64.00</text><text transform="translate(1092.2,85.9) scale(0.727,1) rotate(0.03)" font-size="4.7" fill="#1c1c1c" text-anchor="end" stroke="#1c1c1c" stroke-width="0.13">20</text><text transform="translate(764.9,93.4) scale(0.851,1) rotate(0.03)" font-size="4.7" fill="#1c1c1c" text-anchor="end" stroke="#1c1c1c" stroke-width="0.13">Sklop kotla N2</text><text transform="translate(770.0,93.4) scale(0.77,1) rotate(0.03)" font-size="4.7" fill="#1c1c1c" stroke="#1c1c1c" stroke-width="0.13">S0000041</text><text transform="translate(840.7,93.4) scale(0.789,1) rotate(0.03)" font-size="4.7" fill="#1c1c1c" text-anchor="end" stroke="#1c1c1c" stroke-width="0.13">727.416667</text><text transform="translate(870.8,93.4) scale(0.784,1) rotate(0.03)" font-size="4.7" fill="#1c1c1c" text-anchor="end" stroke="#1c1c1c" stroke-width="0.13">64</text><text transform="translate(873.1,93.4) scale(0.814,1) rotate(0.03)" font-size="4.7" fill="#1c1c1c" stroke="#1c1c1c" stroke-width="0.13">11/16/2022 ‹</text><text transform="translate(896.0,93.4) scale(0.789,1) rotate(0.03)" font-size="4.7" fill="#1c1c1c" stroke="#1c1c1c" stroke-width="0.13">12/29/202</text><text transform="translate(914.2,93.4) scale(0.722,1) rotate(0.03)" font-size="4.7" fill="#1c1c1c" stroke="#1c1c1c" stroke-width="0.13">OJ 1.6</text><text transform="translate(973.0,93.4) scale(0.84,1) rotate(0.03)" font-size="4.7" fill="#1c1c1c" text-anchor="end" stroke="#1c1c1c" stroke-width="0.13">1</text><text transform="translate(975.8,93.4) scale(0.754,1) rotate(0.03)" font-size="4.7" fill="#1c1c1c" stroke="#1c1c1c" stroke-width="0.13">11/16/2022 3:40:25 PM</text><text transform="translate(1013.5,93.4) scale(0.787,1) rotate(0.03)" font-size="4.7" fill="#1c1c1c" stroke="#1c1c1c" stroke-width="0.13">11/16/2022 3:40:25</text><text transform="translate(1069.7,93.4) scale(0.731,1) rotate(0.03)" font-size="4.7" fill="#1c1c1c" text-anchor="end" stroke="#1c1c1c" stroke-width="0.13">64.00</text><text transform="translate(1092.2,93.4) scale(0.727,1) rotate(0.03)" font-size="4.7" fill="#1c1c1c" text-anchor="end" stroke="#1c1c1c" stroke-width="0.13">20</text><rect x="1101.0" y="50.4" width="6.9" height="51.2" fill="#f0f0f0" /><path d="M1102.5,55.2 L1103.8,54.0 L1105.1,55.2" fill="none" stroke="#444" stroke-width="0.6"/><rect x="1101.6" y="58.3" width="4.8" height="6.7" fill="#c4c4c4" /><path d="M1102.5,97.3 L1103.8,98.7 L1105.1,97.3" fill="none" stroke="#444" stroke-width="0.6"/><line x1="744.8" y1="102.0" x2="1101.0" y2="102.0" stroke="#e9e9e9" stroke-width="0.5"/><rect x="744.8" y="102.3" width="363.1" height="6.6" fill="#f9f9f9" /><path d="M1097.2,104.0 L1098.4,105.2 L1097.2,106.4" fill="none" stroke="#444" stroke-width="0.6"/><line x1="744.8" y1="109.6" x2="1107.9" y2="109.6" stroke="#cdcdcd" stroke-width="1.0"/><line x1="744.8" y1="110.5" x2="1107.9" y2="110.5" stroke="#e9e9e9" stroke-width="0.8"/><rect x="997.0" y="112.8" width="52.4" height="4.5" fill="#e7e7e7" stroke="#d2d2d2" stroke-width="0.6" /><path d="M1047.0,112.4 L1050.4,112.4 L1050.4,116.6 L1048.7,118.2 L1047.0,116.6 Z" fill="#0a78d8"/><line x1="999.0" y1="120.3" x2="999.0" y2="121.9" stroke="#c4c4c4" stroke-width="0.6"/><line x1="1004.4" y1="120.3" x2="1004.4" y2="121.9" stroke="#c4c4c4" stroke-width="0.6"/><line x1="1009.8" y1="120.3" x2="1009.8" y2="121.9" stroke="#c4c4c4" stroke-width="0.6"/><line x1="1015.1" y1="120.3" x2="1015.1" y2="121.9" stroke="#c4c4c4" stroke-width="0.6"/><line x1="1020.5" y1="120.3" x2="1020.5" y2="121.9" stroke="#c4c4c4" stroke-width="0.6"/><line x1="1025.9" y1="120.3" x2="1025.9" y2="121.9" stroke="#c4c4c4" stroke-width="0.6"/><line x1="1031.3" y1="120.3" x2="1031.3" y2="121.9" stroke="#c4c4c4" stroke-width="0.6"/><line x1="1036.6" y1="120.3" x2="1036.6" y2="121.9" stroke="#c4c4c4" stroke-width="0.6"/><line x1="1042.0" y1="120.3" x2="1042.0" y2="121.9" stroke="#c4c4c4" stroke-width="0.6"/><line x1="1047.4" y1="120.3" x2="1047.4" y2="121.9" stroke="#c4c4c4" stroke-width="0.6"/><rect x="1057.5" y="114.4" width="3.6" height="3.6" fill="#000080" /><rect x="1062.5" y="114.4" width="3.6" height="3.6" fill="#800000" /><rect x="1067.5" y="114.4" width="3.6" height="3.6" fill="#008000" /><rect x="1072.5" y="114.4" width="3.6" height="3.6" fill="#e0d000" /><rect x="1077.5" y="114.4" width="3.6" height="3.6" fill="#f0f0f0" stroke="#555" stroke-width="0.5" /><rect x="1082.5" y="114.4" width="3.6" height="3.6" fill="#0000e0" /><rect x="1087.5" y="114.4" width="3.6" height="3.6" fill="#a0a0a0" stroke="#555" stroke-width="0.5" /><rect x="1092.5" y="114.4" width="3.6" height="3.6" fill="#a6caf0" stroke="#555" stroke-width="0.5" /><circle cx="1102.6" cy="116.2" r="1.5" fill="none" stroke="#222" stroke-width="0.7"/><line x1="744.8" y1="121.0" x2="1100.8" y2="121.0" stroke="#e0e0e0" stroke-width="0.6"/><svg x="744.4" y="121.2" width="356.4" height="339.3" viewBox="744.4 121.2 356.4 339.3"><path d="M746.2,110.0 L751.2,110.0 L751.2,138.3 L760.8,138.3 L760.8,143.0 L746.2,143.0 Z" fill="url(#h3)" stroke="#1a1a2a" stroke-width="0.6"/><rect x="760.8" y="129.6" width="51.4" height="23.2" fill="#000080" stroke="#8a8aa8" stroke-width="0.6" /><text transform="translate(761.6,134.5) scale(0.8,1) rotate(0.03)" font-size="4.7" fill="#fff" stroke="#fff" stroke-width="0.13">Mfg #:</text><text transform="translate(777.8,134.5) scale(0.8,1) rotate(0.03)" font-size="4.7" fill="#fff" stroke="#fff" stroke-width="0.13">SW-19885</text><text transform="translate(761.6,139.9) scale(0.8,1) rotate(0.03)" font-size="4.7" fill="#fff" stroke="#fff" stroke-width="0.13">Item #:</text><text transform="translate(777.8,139.9) scale(0.8,1) rotate(0.03)" font-size="4.7" fill="#fff" stroke="#fff" stroke-width="0.13">FG SW-19885</text><text transform="translate(761.6,145.3) scale(0.8,1) rotate(0.03)" font-size="4.7" fill="#fff" stroke="#fff" stroke-width="0.13">Vrata N2</text><rect x="804.4" y="143.8" width="7.4" height="8.5" fill="#dcdcdc" stroke="#f6f6f6" stroke-width="0.5" /><path d="M804.6,152.2 L811.9,152.2 L811.9,144.0" fill="none" stroke="#8c8c8c" stroke-width="0.5"/><rect x="806.2" y="144.8" width="1.3" height="0.8" fill="#e6d24a" /><rect x="806.2" y="145.4" width="2.4" height="2.2" fill="#f2e05a" /><path d="M805.93,148.52 L807.71,148.52 L809.63,150.05 M808.30,149.03 L809.93,148.19" fill="none" stroke="#111" stroke-width="0.41"/><rect x="809.9" y="147.7" width="1.1" height="0.9" fill="#111" /><rect x="809.6" y="149.4" width="1.5" height="1.3" fill="#111" /><rect x="760.8" y="152.8" width="51.4" height="6.2" fill="#fbfbfb" stroke="#b4b4b4" stroke-width="0.6" /><rect x="761.5" y="153.6" width="1.7" height="4.7" fill="#00e8f0" /><text transform="translate(786.5,157.5) scale(0.9,1) rotate(0.03)" font-size="4.2" fill="#333" text-anchor="middle" stroke="#333" stroke-width="0.13">0.00%</text><path d="M783.7,159.0 L788.9,159.0 L788.9,172.3 L798.5,172.3 L798.5,177.5 L783.7,177.5 Z" fill="url(#h3)" stroke="#1a1a2a" stroke-width="0.6"/><rect x="821.0" y="193.2" width="5.9" height="67.4" fill="url(#h3)" stroke="#1a1a2a" stroke-width="0.6" /><rect x="826.9" y="220.5" width="9.2" height="5.9" fill="url(#h3)" /><line x1="826.9" y1="220.5" x2="836.1" y2="220.5" stroke="#8a8a92" stroke-width="0.6"/><line x1="826.9" y1="226.4" x2="836.1" y2="226.4" stroke="#1a1a2a" stroke-width="0.6"/><rect x="826.9" y="254.8" width="9.2" height="5.8" fill="url(#h3)" /><line x1="826.9" y1="254.8" x2="836.1" y2="254.8" stroke="#8a8a92" stroke-width="0.6"/><line x1="826.9" y1="260.6" x2="836.1" y2="260.6" stroke="#1a1a2a" stroke-width="0.6"/><rect x="798.5" y="163.1" width="51.3" height="23.6" fill="#a6caf0" stroke="#808080" stroke-width="0.7" /><svg x="798.5" y="163.1" width="50.9" height="23.6" viewBox="798.5 163.1 50.9 23.6"><text transform="translate(799.3,168.1) scale(0.8,1) rotate(0.03)" font-size="4.7" fill="#000" stroke="#000" stroke-width="0.13">Process #:</text><text transform="translate(831.5,168.1) scale(0.8,1) rotate(0.03)" font-size="4.7" fill="#000" stroke="#000" stroke-width="0.13">220106</text><text transform="translate(799.3,173.6) scale(0.775,1) rotate(0.03)" font-size="4.7" fill="#000" stroke="#000" stroke-width="0.13">Montaža vrata</text></svg><rect x="798.5" y="186.7" width="51.3" height="6.5" fill="#fbfbfb" stroke="#b4b4b4" stroke-width="0.6" /><rect x="799.2" y="187.5" width="1.8" height="5.0" fill="#00e8f0" /><text transform="translate(824.1,191.6) scale(0.9,1) rotate(0.03)" font-size="4.324000000000001" fill="#333" text-anchor="middle" stroke="#333" stroke-width="0.13">0.00%</text><line x1="849.8" y1="174.7" x2="858.4" y2="174.7" stroke="#000" stroke-width="1.8"/><svg x="858.4" y="171.0" width="39.3" height="10.2" viewBox="858.4 171.0 39.3 10.2"><rect x="858.4" y="171.0" width="39.3" height="10.2" fill="#fcfcfc" /><text transform="translate(859.2,176.3) scale(0.8,1) rotate(0.03)" font-size="4.4" fill="#111" stroke="#111" stroke-width="0.13">SI K0000011</text><text transform="translate(859.2,180.7) scale(0.8,1) rotate(0.03)" font-size="4.4" fill="#111" stroke="#111" stroke-width="0.13">Sarka kotlovska</text></svg><rect x="858.4" y="171.0" width="39.3" height="10.2" fill="none" stroke="#666" stroke-width="0.6" /><svg x="858.4" y="181.2" width="39.3" height="10.1" viewBox="858.4 181.2 39.3 10.1"><rect x="858.4" y="181.2" width="39.3" height="10.1" fill="#fcfcfc" /><text transform="translate(859.2,186.4) scale(0.8,1) rotate(0.03)" font-size="4.4" fill="#111" stroke="#111" stroke-width="0.13">SI K0000026</text><text transform="translate(859.2,190.8) scale(0.8,1) rotate(0.03)" font-size="4.4" fill="#111" stroke="#111" stroke-width="0.13">Spojnica 2 za 1.2 A PU</text></svg><rect x="858.4" y="181.2" width="39.3" height="10.1" fill="none" stroke="#666" stroke-width="0.6" /><svg x="858.4" y="191.3" width="39.3" height="10.1" viewBox="858.4 191.3 39.3 10.1"><rect x="858.4" y="191.3" width="39.3" height="10.1" fill="#fcfcfc" /><text transform="translate(859.2,196.5) scale(0.8,1) rotate(0.03)" font-size="4.4" fill="#111" stroke="#111" stroke-width="0.13">SI K0000003</text><text transform="translate(859.2,200.9) scale(0.8,1) rotate(0.03)" font-size="4.4" fill="#111" stroke="#111" stroke-width="0.13">Izolacija vrata N 2.4 PU</text></svg><rect x="858.4" y="191.3" width="39.3" height="10.1" fill="none" stroke="#666" stroke-width="0.6" /><rect x="836.1" y="211.3" width="51.4" height="23.6" fill="#000080" stroke="#8a8aa8" stroke-width="0.6" /><text transform="translate(836.9,216.3) scale(0.8,1) rotate(0.03)" font-size="4.7" fill="#fff" stroke="#fff" stroke-width="0.13">Type:</text><text transform="translate(853.1,216.3) scale(0.8,1) rotate(0.03)" font-size="4.7" fill="#fff" stroke="#fff" stroke-width="0.13">TESTERE</text><text transform="translate(836.9,221.8) scale(0.8,1) rotate(0.03)" font-size="4.7" fill="#fff" stroke="#fff" stroke-width="0.13">Mfg #:</text><text transform="translate(853.1,221.8) scale(0.8,1) rotate(0.03)" font-size="4.7" fill="#fff" stroke="#fff" stroke-width="0.13">SW-19874</text><text transform="translate(836.9,227.3) scale(0.8,1) rotate(0.03)" font-size="4.7" fill="#fff" stroke="#fff" stroke-width="0.13">Rate/Hr:</text><text transform="translate(853.1,227.3) scale(0.8,1) rotate(0.03)" font-size="4.7" fill="#fff" stroke="#fff" stroke-width="0.13">12.00</text><text transform="translate(836.9,232.8) scale(0.8,1) rotate(0.03)" font-size="4.7" fill="#fff" stroke="#fff" stroke-width="0.13">Item #:</text><text transform="translate(853.1,232.8) scale(0.8,1) rotate(0.03)" font-size="4.7" fill="#fff" stroke="#fff" stroke-width="0.13">FG SW-19874</text><line x1="887.5" y1="223.3" x2="896.7" y2="223.3" stroke="#000" stroke-width="1.8"/><svg x="896.7" y="219.5" width="38.7" height="10.3" viewBox="896.7 219.5 38.7 10.3"><rect x="896.7" y="219.5" width="38.7" height="10.3" fill="#800080" /><text transform="translate(897.5,224.7) scale(0.8,1) rotate(0.03)" font-size="4.4" fill="#fff" stroke="#fff" stroke-width="0.13">SI K0000128</text><text transform="translate(897.5,229.4) scale(0.8,1) rotate(0.03)" font-size="4.4" fill="#fff" stroke="#fff" stroke-width="0.13">Rotaciona Jezgrobusilica</text></svg><rect x="896.7" y="219.5" width="38.7" height="10.3" fill="none" stroke="#b090b0" stroke-width="0.5" /><rect x="836.1" y="245.5" width="51.4" height="23.7" fill="#000080" stroke="#8a8aa8" stroke-width="0.6" /><text transform="translate(836.9,250.5) scale(0.8,1) rotate(0.03)" font-size="4.7" fill="#fff" stroke="#fff" stroke-width="0.13">Mfg #:</text><text transform="translate(853.1,250.5) scale(0.8,1) rotate(0.03)" font-size="4.7" fill="#fff" stroke="#fff" stroke-width="0.13">SW-16018</text><text transform="translate(836.9,256.0) scale(0.8,1) rotate(0.03)" font-size="4.7" fill="#fff" stroke="#fff" stroke-width="0.13">Route #:</text><text transform="translate(853.1,256.0) scale(0.8,1) rotate(0.03)" font-size="4.7" fill="#fff" stroke="#fff" stroke-width="0.13">40</text><text transform="translate(836.9,261.5) scale(0.8,1) rotate(0.03)" font-size="4.7" fill="#fff" stroke="#fff" stroke-width="0.13">Item #:</text><text transform="translate(853.1,261.5) scale(0.8,1) rotate(0.03)" font-size="4.7" fill="#fff" stroke="#fff" stroke-width="0.13">FG SW-16018</text><text transform="translate(836.9,267.0) scale(0.8,1) rotate(0.03)" font-size="4.7" fill="#fff" stroke="#fff" stroke-width="0.13">Osnova dimovoda</text><rect x="879.7" y="260.0" width="7.4" height="8.7" fill="#dcdcdc" stroke="#f6f6f6" stroke-width="0.5" /><path d="M879.9,268.6 L887.1,268.6 L887.1,260.2" fill="none" stroke="#8c8c8c" stroke-width="0.5"/><rect x="881.5" y="261.0" width="1.3" height="0.9" fill="#e6d24a" /><rect x="881.5" y="261.6" width="2.4" height="2.2" fill="#f2e05a" /><path d="M881.23,264.84 L883.01,264.84 L884.93,266.40 M883.60,265.36 L885.23,264.50" fill="none" stroke="#111" stroke-width="0.41"/><rect x="885.2" y="264.0" width="1.1" height="1.0" fill="#111" /><rect x="884.9" y="265.7" width="1.5" height="1.3" fill="#111" /><rect x="836.1" y="269.2" width="51.4" height="6.1" fill="#fbfbfb" stroke="#b4b4b4" stroke-width="0.6" /><rect x="836.8" y="270.0" width="1.7" height="4.6" fill="#00e8f0" /><text transform="translate(861.8,273.9) scale(0.9,1) rotate(0.03)" font-size="4.2" fill="#333" text-anchor="middle" stroke="#333" stroke-width="0.13">0.00%</text><path d="M859.1,275.3 L864.5,275.3 L864.5,289.0 L873.8,289.0 L873.8,294.8 L859.1,294.8 Z" fill="url(#h3)" stroke="#1a1a2a" stroke-width="0.6"/><rect x="896.7" y="309.6" width="5.5" height="120.3" fill="url(#h3)" stroke="#1a1a2a" stroke-width="0.6" /><rect x="902.2" y="322.6" width="9.6" height="5.8" fill="url(#h3)" /><line x1="902.2" y1="322.6" x2="911.8" y2="322.6" stroke="#8a8a92" stroke-width="0.6"/><line x1="902.2" y1="328.4" x2="911.8" y2="328.4" stroke="#1a1a2a" stroke-width="0.6"/><rect x="902.2" y="424.3" width="9.6" height="5.6" fill="url(#h3)" /><line x1="902.2" y1="424.3" x2="911.8" y2="424.3" stroke="#8a8a92" stroke-width="0.6"/><line x1="902.2" y1="429.9" x2="911.8" y2="429.9" stroke="#1a1a2a" stroke-width="0.6"/><rect x="873.8" y="279.8" width="51.7" height="23.6" fill="#a6caf0" stroke="#808080" stroke-width="0.7" /><svg x="873.8" y="279.8" width="51.3" height="23.6" viewBox="873.8 279.8 51.3 23.6"><text transform="translate(874.6,284.8) scale(0.8,1) rotate(0.03)" font-size="4.7" fill="#000" stroke="#000" stroke-width="0.13">Process #:</text><text transform="translate(906.8,284.8) scale(0.8,1) rotate(0.03)" font-size="4.7" fill="#000" stroke="#000" stroke-width="0.13">220028</text><text transform="translate(874.6,290.3) scale(0.775,1) rotate(0.03)" font-size="4.7" fill="#000" stroke="#000" stroke-width="0.13">Farbanje</text></svg><rect x="873.8" y="303.4" width="51.7" height="6.2" fill="#fbfbfb" stroke="#b4b4b4" stroke-width="0.6" /><rect x="874.5" y="304.2" width="1.7" height="4.7" fill="#00e8f0" /><text transform="translate(899.6,308.2) scale(0.9,1) rotate(0.03)" font-size="4.324000000000001" fill="#333" text-anchor="middle" stroke="#333" stroke-width="0.13">0.00%</text><path d="M934.7,337.6 L940.2,337.6 L940.2,356.5 L949.4,356.5 L949.4,362.3 L934.7,362.3 Z" fill="url(#h3)" stroke="#1a1a2a" stroke-width="0.6"/><rect x="911.8" y="314.0" width="51.3" height="23.6" fill="#000080" stroke="#8a8aa8" stroke-width="0.6" /><text transform="translate(912.6,319.0) scale(0.8,1) rotate(0.03)" font-size="4.7" fill="#fff" stroke="#fff" stroke-width="0.13">Type:</text><text transform="translate(928.8,319.0) scale(0.8,1) rotate(0.03)" font-size="4.7" fill="#fff" stroke="#fff" stroke-width="0.13">DIGIBEND</text><text transform="translate(912.6,324.5) scale(0.8,1) rotate(0.03)" font-size="4.7" fill="#fff" stroke="#fff" stroke-width="0.13">Mfg #:</text><text transform="translate(928.8,324.5) scale(0.8,1) rotate(0.03)" font-size="4.7" fill="#fff" stroke="#fff" stroke-width="0.13">SW-18270</text><text transform="translate(912.6,330.0) scale(0.8,1) rotate(0.03)" font-size="4.7" fill="#fff" stroke="#fff" stroke-width="0.13">Route #:</text><text transform="translate(928.8,330.0) scale(0.8,1) rotate(0.03)" font-size="4.7" fill="#fff" stroke="#fff" stroke-width="0.13">30</text><text transform="translate(912.6,335.5) scale(0.8,1) rotate(0.03)" font-size="4.7" fill="#fff" stroke="#fff" stroke-width="0.13">Rate/Hr:</text><text transform="translate(928.8,335.5) scale(0.8,1) rotate(0.03)" font-size="4.7" fill="#fff" stroke="#fff" stroke-width="0.13">60.00</text><rect x="955.4" y="328.4" width="7.4" height="8.6" fill="#dcdcdc" stroke="#f6f6f6" stroke-width="0.5" /><path d="M955.6,337.1 L962.8,337.1 L962.8,328.6" fill="none" stroke="#8c8c8c" stroke-width="0.5"/><rect x="957.1" y="329.5" width="1.3" height="0.9" fill="#e6d24a" /><rect x="957.1" y="330.1" width="2.4" height="2.2" fill="#f2e05a" /><path d="M956.84,333.26 L958.61,333.26 L960.53,334.81 M959.20,333.78 L960.83,332.92" fill="none" stroke="#111" stroke-width="0.41"/><rect x="960.8" y="332.4" width="1.1" height="0.9" fill="#111" /><rect x="960.5" y="334.1" width="1.5" height="1.3" fill="#111" /><path d="M972.4,371.5 L977.9,371.5 L977.9,390.3 L987.4,390.3 L987.4,396.4 L972.4,396.4 Z" fill="url(#h3)" stroke="#1a1a2a" stroke-width="0.6"/><rect x="949.4" y="347.9" width="51.4" height="23.6" fill="#000080" stroke="#8a8aa8" stroke-width="0.6" /><text transform="translate(950.2,352.9) scale(0.8,1) rotate(0.03)" font-size="4.7" fill="#fff" stroke="#fff" stroke-width="0.13">Type:</text><text transform="translate(966.4,352.9) scale(0.8,1) rotate(0.03)" font-size="4.7" fill="#fff" stroke="#fff" stroke-width="0.13">SAVIJACICE</text><text transform="translate(950.2,358.4) scale(0.8,1) rotate(0.03)" font-size="4.7" fill="#fff" stroke="#fff" stroke-width="0.13">Mfg #:</text><text transform="translate(966.4,358.4) scale(0.8,1) rotate(0.03)" font-size="4.7" fill="#fff" stroke="#fff" stroke-width="0.13">SW-18269</text><text transform="translate(950.2,363.9) scale(0.8,1) rotate(0.03)" font-size="4.7" fill="#fff" stroke="#fff" stroke-width="0.13">Rate/Hr:</text><text transform="translate(966.4,363.9) scale(0.8,1) rotate(0.03)" font-size="4.7" fill="#fff" stroke="#fff" stroke-width="0.13">40.00</text><text transform="translate(950.2,369.4) scale(0.8,1) rotate(0.03)" font-size="4.7" fill="#fff" stroke="#fff" stroke-width="0.13">Item #:</text><text transform="translate(966.4,369.4) scale(0.8,1) rotate(0.03)" font-size="4.7" fill="#fff" stroke="#fff" stroke-width="0.13">FP SW-18270X20</text><rect x="987.4" y="381.8" width="50.7" height="23.3" fill="#000080" stroke="#8a8aa8" stroke-width="0.6" /><text transform="translate(988.2,386.7) scale(0.8,1) rotate(0.03)" font-size="4.7" fill="#fff" stroke="#fff" stroke-width="0.13">Type:</text><text transform="translate(1004.4,386.7) scale(0.8,1) rotate(0.03)" font-size="4.7" fill="#fff" stroke="#fff" stroke-width="0.13">LASER</text><text transform="translate(988.2,392.2) scale(0.8,1) rotate(0.03)" font-size="4.7" fill="#fff" stroke="#fff" stroke-width="0.13">Mfg #:</text><text transform="translate(1004.4,392.2) scale(0.8,1) rotate(0.03)" font-size="4.7" fill="#fff" stroke="#fff" stroke-width="0.13">N2_VRATA_3</text><text transform="translate(988.2,397.6) scale(0.8,1) rotate(0.03)" font-size="4.7" fill="#fff" stroke="#fff" stroke-width="0.13">Rate/Hr:</text><text transform="translate(1004.4,397.6) scale(0.8,1) rotate(0.03)" font-size="4.7" fill="#fff" stroke="#fff" stroke-width="0.13">168.00</text><text transform="translate(988.2,403.0) scale(0.8,1) rotate(0.03)" font-size="4.7" fill="#fff" stroke="#fff" stroke-width="0.13">Item #:</text><text transform="translate(1004.4,403.0) scale(0.8,1) rotate(0.03)" font-size="4.7" fill="#fff" stroke="#fff" stroke-width="0.13">FP SW-18270-10</text><line x1="1038.1" y1="393.7" x2="1047.2" y2="393.7" stroke="#000" stroke-width="1.8"/><svg x="1047.2" y="390.0" width="39.2" height="9.3" viewBox="1047.2 390.0 39.2 9.3"><rect x="1047.2" y="390.0" width="39.2" height="9.3" fill="#800080" /><text transform="translate(1048.0,394.8) scale(0.8,1) rotate(0.03)" font-size="4.4" fill="#fff" stroke="#fff" stroke-width="0.13">SI K0000109</text><text transform="translate(1048.0,399.5) scale(0.8,1) rotate(0.03)" font-size="4.4" fill="#fff" stroke="#fff" stroke-width="0.13">LIM. TVA. #3X1500X30</text></svg><rect x="1047.2" y="390.0" width="39.2" height="9.3" fill="none" stroke="#b090b0" stroke-width="0.5" /><path d="M935.0,439.8 L940.1,439.8 L940.1,458.5 L949.7,458.5 L949.7,466.0 L935.0,466.0 Z" fill="url(#h3)" stroke="#1a1a2a" stroke-width="0.6"/><rect x="911.7" y="415.8" width="51.3" height="24.0" fill="#000080" stroke="#8a8aa8" stroke-width="0.6" /><text transform="translate(912.5,420.8) scale(0.8,1) rotate(0.03)" font-size="4.7" fill="#fff" stroke="#fff" stroke-width="0.13">Type:</text><text transform="translate(928.7,420.8) scale(0.8,1) rotate(0.03)" font-size="4.7" fill="#fff" stroke="#fff" stroke-width="0.13">SAVIJACICE</text><text transform="translate(912.5,426.4) scale(0.8,1) rotate(0.03)" font-size="4.7" fill="#fff" stroke="#fff" stroke-width="0.13">Mfg #:</text><text transform="translate(928.7,426.4) scale(0.8,1) rotate(0.03)" font-size="4.7" fill="#fff" stroke="#fff" stroke-width="0.13">D0000248</text><text transform="translate(912.5,432.0) scale(0.8,1) rotate(0.03)" font-size="4.7" fill="#fff" stroke="#fff" stroke-width="0.13">Route #:</text><text transform="translate(928.7,432.0) scale(0.8,1) rotate(0.03)" font-size="4.7" fill="#fff" stroke="#fff" stroke-width="0.13">20</text><text transform="translate(912.5,437.6) scale(0.8,1) rotate(0.03)" font-size="4.7" fill="#fff" stroke="#fff" stroke-width="0.13">Rate/Hr:</text><text transform="translate(928.7,437.6) scale(0.8,1) rotate(0.03)" font-size="4.7" fill="#fff" stroke="#fff" stroke-width="0.13">60.00</text><rect x="949.7" y="450.2" width="51.0" height="23.6" fill="#000080" stroke="#8a8aa8" stroke-width="0.6" /><text transform="translate(950.5,455.2) scale(0.8,1) rotate(0.03)" font-size="4.7" fill="#fff" stroke="#fff" stroke-width="0.13">Type:</text><text transform="translate(966.7,455.2) scale(0.8,1) rotate(0.03)" font-size="4.7" fill="#fff" stroke="#fff" stroke-width="0.13">LASER</text><text transform="translate(950.5,460.7) scale(0.8,1) rotate(0.03)" font-size="4.7" fill="#fff" stroke="#fff" stroke-width="0.13">Mfg #:</text><text transform="translate(966.7,460.7) scale(0.8,1) rotate(0.03)" font-size="4.7" fill="#fff" stroke="#fff" stroke-width="0.13">N2_SEMUNKE2</text><text transform="translate(950.5,466.2) scale(0.8,1) rotate(0.03)" font-size="4.7" fill="#fff" stroke="#fff" stroke-width="0.13">Rate/Hr:</text><text transform="translate(966.7,466.2) scale(0.8,1) rotate(0.03)" font-size="4.7" fill="#fff" stroke="#fff" stroke-width="0.13">60.00</text><text transform="translate(950.5,471.7) scale(0.8,1) rotate(0.03)" font-size="4.7" fill="#fff" stroke="#fff" stroke-width="0.13">Item #:</text><text transform="translate(966.7,471.7) scale(0.8,1) rotate(0.03)" font-size="4.7" fill="#fff" stroke="#fff" stroke-width="0.13">FP</text></svg><rect x="1100.8" y="121.2" width="7.1" height="339.3" fill="#f0f0f0" /><path d="M1102.7,125.2 L1104.0,123.9 L1105.3,125.2" fill="none" stroke="#444" stroke-width="0.6"/><rect x="1101.4" y="253.0" width="5.2" height="25.7" fill="#c4c4c4" /><path d="M1102.7,457.0 L1104.0,458.2 L1105.3,457.0" fill="none" stroke="#444" stroke-width="0.6"/><line x1="744.8" y1="460.6" x2="1107.9" y2="460.6" stroke="#d8d8d8" stroke-width="0.6"/><rect x="744.8" y="460.9" width="363.1" height="7.9" fill="#f6f6f6" /><line x1="1107.5" y1="244.0" x2="1107.5" y2="468.8" stroke="#2a2a2a" stroke-width="0.9"/></svg></div>
</body></html>
